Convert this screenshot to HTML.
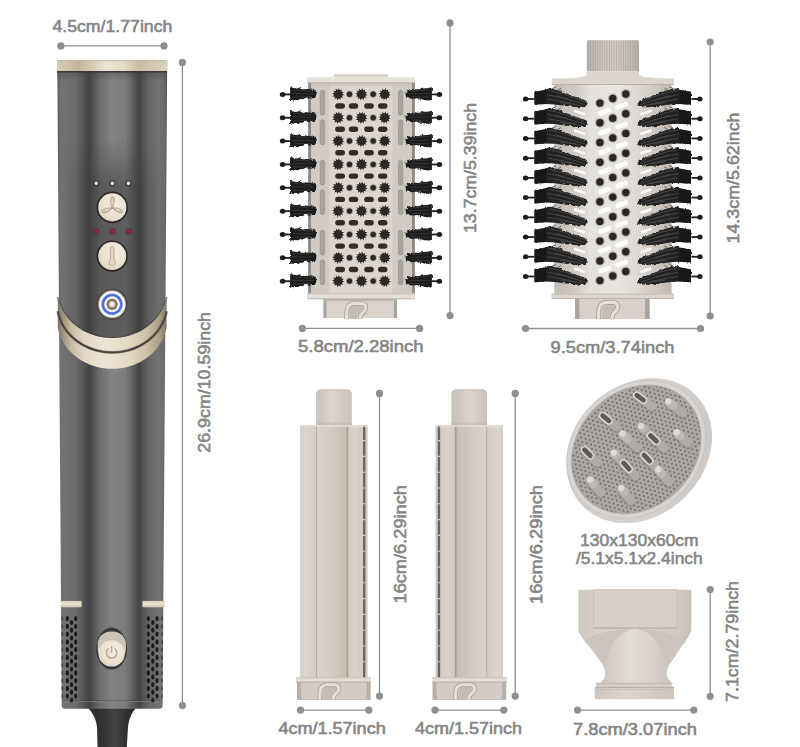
<!DOCTYPE html>
<html><head><meta charset="utf-8"><title>Hair dryer set</title>
<style>
html,body{margin:0;padding:0;background:#fff;width:800px;height:747px;overflow:hidden}
svg{display:block}
text{font-family:"Liberation Sans",sans-serif;fill:#858585;stroke:#858585;stroke-width:0.6px}
</style></head><body>
<svg width="800" height="747" viewBox="0 0 800 747">
<defs>
<linearGradient id="gOvH" x1="0" x2="1"><stop offset="0" stop-color="#3a3a3a" stop-opacity="0"/><stop offset="0.18" stop-color="#3a3a3a" stop-opacity="0.25"/><stop offset="0.5" stop-color="#3a3a3a" stop-opacity="0.55"/><stop offset="0.8" stop-color="#3a3a3a" stop-opacity="0.3"/><stop offset="1" stop-color="#3a3a3a" stop-opacity="0"/></linearGradient>
<linearGradient id="gOvV" x1="0" x2="0" y1="0" y2="1"><stop offset="0" stop-color="#fff" stop-opacity="0"/><stop offset="0.22" stop-color="#fff" stop-opacity="1"/><stop offset="1" stop-color="#fff" stop-opacity="1"/></linearGradient>
<mask id="mOv" maskUnits="userSpaceOnUse" x="60" y="140" width="106" height="205"><rect x="60" y="140" width="106" height="205" fill="url(#gOvV)"/></mask>
<filter id="fFluff" x="-10%" y="-30%" width="120%" height="160%"><feTurbulence type="fractalNoise" baseFrequency="0.35" numOctaves="2" seed="3"/><feDisplacementMap in="SourceGraphic" scale="3.2" xChannelSelector="R" yChannelSelector="G"/></filter>
<linearGradient id="gCap2" x1="0" x2="1"><stop offset="0" stop-color="#b9b3ac"/><stop offset="0.3" stop-color="#cfc9c2"/><stop offset="0.55" stop-color="#d6d0c9"/><stop offset="0.85" stop-color="#c6c0b9"/><stop offset="1" stop-color="#b5afa8"/></linearGradient>

<linearGradient id="gBody" x1="0" x2="1" y1="0" y2="0">
<stop offset="0" stop-color="#5a5a5a"/>
<stop offset="0.03" stop-color="#727272"/>
<stop offset="0.17" stop-color="#6c6c6c"/>
<stop offset="0.29" stop-color="#434343"/>
<stop offset="0.39" stop-color="#6e6e6e"/>
<stop offset="0.5" stop-color="#838383"/>
<stop offset="0.62" stop-color="#7c7c7c"/>
<stop offset="0.745" stop-color="#444444"/>
<stop offset="0.83" stop-color="#666666"/>
<stop offset="0.92" stop-color="#727272"/>
<stop offset="0.98" stop-color="#6a6a6a"/>
<stop offset="1" stop-color="#4a4a4a"/>
</linearGradient>
<linearGradient id="gGold" x1="0" x2="1" y1="0" y2="0">
<stop offset="0" stop-color="#d7ccb6"/><stop offset="0.2" stop-color="#c3b59a"/><stop offset="0.45" stop-color="#ece4d3"/><stop offset="0.6" stop-color="#e6dcc8"/><stop offset="0.75" stop-color="#c9bca2"/><stop offset="1" stop-color="#ddd3c0"/>
</linearGradient>
<linearGradient id="gGold2" x1="0" x2="1" y1="0" y2="0">
<stop offset="0" stop-color="#7f7564"/><stop offset="0.05" stop-color="#a0957f"/><stop offset="0.12" stop-color="#c6baa1"/><stop offset="0.25" stop-color="#e2d8c4"/><stop offset="0.45" stop-color="#ede5d4"/><stop offset="0.65" stop-color="#e3d9c4"/><stop offset="0.82" stop-color="#cdc0a7"/><stop offset="0.93" stop-color="#ab9f87"/><stop offset="1" stop-color="#817765"/>
</linearGradient>
<linearGradient id="gStripe" x1="0" x2="0" y1="0" y2="1">
<stop offset="0" stop-color="#d9cdb6"/><stop offset="0.5" stop-color="#ebe3d2"/><stop offset="1" stop-color="#cfc2a8"/>
</linearGradient>
<linearGradient id="gTopShade" x1="0" x2="0" y1="0" y2="1">
<stop offset="0" stop-color="#3a363c" stop-opacity="0.35"/><stop offset="1" stop-color="#3a363c" stop-opacity="0"/>
</linearGradient>
<radialGradient id="gBtn" cx="0.6" cy="0.35" r="0.75">
<stop offset="0" stop-color="#f3ece0"/><stop offset="0.7" stop-color="#e9dfcd"/><stop offset="1" stop-color="#d8ccb7"/>
</radialGradient>
<linearGradient id="gNeck" x1="0" x2="1" y1="0" y2="0">
<stop offset="0" stop-color="#2a2a2a"/><stop offset="0.35" stop-color="#333"/><stop offset="0.55" stop-color="#454545"/><stop offset="0.75" stop-color="#303030"/><stop offset="1" stop-color="#262626"/>
</linearGradient>
<linearGradient id="gB2" x1="0" x2="1" y1="0" y2="0">
<stop offset="0" stop-color="#c3bdb6"/><stop offset="0.2" stop-color="#d3cdc6"/><stop offset="0.3" stop-color="#e4e0db"/><stop offset="0.55" stop-color="#e8e4df"/><stop offset="0.72" stop-color="#dcd7d1"/><stop offset="0.85" stop-color="#d0cac3"/><stop offset="1" stop-color="#bfb8b1"/>
</linearGradient>
<!--PDEFS-->
<linearGradient id="gCap" x1="0" x2="1"><stop offset="0" stop-color="#cbc2b9"/><stop offset="0.45" stop-color="#dcd5ce"/><stop offset="1" stop-color="#cac1b8"/></linearGradient>
<linearGradient id="gPanL" x1="0" x2="1"><stop offset="0" stop-color="#d2cac2"/><stop offset="0.25" stop-color="#ddd6cf"/><stop offset="1" stop-color="#d3cbc3"/></linearGradient>
<linearGradient id="gPanC" x1="0" x2="1"><stop offset="0" stop-color="#dad3cc"/><stop offset="0.5" stop-color="#d4ccc4"/><stop offset="1" stop-color="#c5bcb3"/></linearGradient>
<linearGradient id="gPanR" x1="0" x2="1"><stop offset="0" stop-color="#d0c8bf"/><stop offset="0.4" stop-color="#dad3cb"/><stop offset="1" stop-color="#d3cbc3"/></linearGradient>
<linearGradient id="gRim" x1="0" x2="1" y1="0" y2="1"><stop offset="0" stop-color="#d3cec9"/><stop offset="0.6" stop-color="#d6d1cc"/><stop offset="1" stop-color="#c9c4bf"/></linearGradient>
<linearGradient id="gNoz" x1="0" x2="1"><stop offset="0" stop-color="#cfc8c0"/><stop offset="0.2" stop-color="#d9d2cb"/><stop offset="0.8" stop-color="#d6cfc8"/><stop offset="1" stop-color="#c9c1b9"/></linearGradient>
<linearGradient id="gCone" x1="0" x2="1"><stop offset="0" stop-color="#cdc5bd"/><stop offset="0.4" stop-color="#e2dcd6"/><stop offset="0.75" stop-color="#d9d2cb"/><stop offset="1" stop-color="#c8c0b8"/></linearGradient>
<linearGradient id="gNozB" x1="0" x2="1"><stop offset="0" stop-color="#cec6be"/><stop offset="0.4" stop-color="#dcd5ce"/><stop offset="1" stop-color="#cdc5bd"/></linearGradient>
<!--/PDEFS-->
</defs>
<rect width="800" height="747" fill="#fff"/>

<!-- ============ DIMENSIONS ============ -->
<g id="dims" stroke="#8f8f8f" stroke-width="1.3" fill="#8f8f8f">
<line x1="60.8" y1="45.9" x2="164" y2="45.9"/><circle cx="60.8" cy="45.9" r="3.6" stroke="none"/><circle cx="164" cy="45.9" r="3.6" stroke="none"/>
<line x1="182.4" y1="62.4" x2="182.4" y2="705.6"/><circle cx="182.4" cy="62.4" r="3.6" stroke="none"/><circle cx="182.4" cy="705.6" r="3.6" stroke="none"/>
<line x1="302.4" y1="328.4" x2="419.6" y2="328.4"/><circle cx="302.4" cy="328.4" r="3.6" stroke="none"/><circle cx="419.6" cy="328.4" r="3.6" stroke="none"/>
<line x1="450" y1="22.9" x2="450" y2="315.6"/><circle cx="450" cy="22.9" r="3.6" stroke="none"/><circle cx="450" cy="315.6" r="3.6" stroke="none"/>
<line x1="525.5" y1="328.5" x2="700.5" y2="328.5"/><circle cx="525.5" cy="328.5" r="3.6" stroke="none"/><circle cx="700.5" cy="328.5" r="3.6" stroke="none"/>
<line x1="710.2" y1="42" x2="710.2" y2="316"/><circle cx="710.2" cy="42" r="3.6" stroke="none"/><circle cx="710.2" cy="316" r="3.6" stroke="none"/>
<line x1="300.5" y1="710.1" x2="368.8" y2="710.1"/><circle cx="300.5" cy="710.1" r="3.6" stroke="none"/><circle cx="368.8" cy="710.1" r="3.6" stroke="none"/>
<line x1="379.5" y1="393.4" x2="379.5" y2="696.1"/><circle cx="379.5" cy="393.4" r="3.6" stroke="none"/><circle cx="379.5" cy="696.1" r="3.6" stroke="none"/>
<line x1="435" y1="710.1" x2="503.8" y2="710.1"/><circle cx="435" cy="710.1" r="3.6" stroke="none"/><circle cx="503.8" cy="710.1" r="3.6" stroke="none"/>
<line x1="515.2" y1="393.4" x2="515.2" y2="696.1"/><circle cx="515.2" cy="393.4" r="3.6" stroke="none"/><circle cx="515.2" cy="696.1" r="3.6" stroke="none"/>
<line x1="577.5" y1="710.1" x2="693.8" y2="710.1"/><circle cx="577.5" cy="710.1" r="3.6" stroke="none"/><circle cx="693.8" cy="710.1" r="3.6" stroke="none"/>
<line x1="710.2" y1="589.5" x2="710.2" y2="696.3"/><circle cx="710.2" cy="589.5" r="3.6" stroke="none"/><circle cx="710.2" cy="696.3" r="3.6" stroke="none"/>
</g>
<g id="labels" font-size="17">
<text x="52.4" y="32.4" textLength="120" lengthAdjust="spacingAndGlyphs">4.5cm/1.77inch</text>
<text x="298" y="352.4" textLength="125.6" lengthAdjust="spacingAndGlyphs">5.8cm/2.28inch</text>
<text x="550.5" y="352.5" textLength="124" lengthAdjust="spacingAndGlyphs">9.5cm/3.74inch</text>
<text x="278.4" y="734.2" textLength="107.3" lengthAdjust="spacingAndGlyphs">4cm/1.57inch</text>
<text x="415" y="734.3" textLength="107" lengthAdjust="spacingAndGlyphs">4cm/1.57inch</text>
<text x="573" y="734.5" textLength="124" lengthAdjust="spacingAndGlyphs">7.8cm/3.07inch</text>
<text x="580" y="546.1" textLength="118.7" lengthAdjust="spacingAndGlyphs">130x130x60cm</text>
<text x="576" y="564.2" textLength="126.7" lengthAdjust="spacingAndGlyphs">/5.1x5.1x2.4inch</text>
<g font-size="17">
<text transform="translate(209.8,452.7) rotate(-90)" textLength="140.7" lengthAdjust="spacingAndGlyphs">26.9cm/10.59inch</text>
<text transform="translate(475.6,233) rotate(-90)" textLength="130" lengthAdjust="spacingAndGlyphs">13.7cm/5.39inch</text>
<text transform="translate(739,243.5) rotate(-90)" textLength="131" lengthAdjust="spacingAndGlyphs">14.3cm/5.62inch</text>
<text transform="translate(406.2,603.5) rotate(-90)" textLength="118.5" lengthAdjust="spacingAndGlyphs">16cm/6.29inch</text>
<text transform="translate(542.2,604) rotate(-90)" textLength="119" lengthAdjust="spacingAndGlyphs">16cm/6.29inch</text>
<text transform="translate(738,702) rotate(-90)" textLength="121" lengthAdjust="spacingAndGlyphs">7.1cm/2.79inch</text>
</g>
</g>

<!-- ============ DRYER ============ -->
<g id="dryer">
<!-- neck -->
<path d="M84,704 C91,710 96,717 97,727 L97.5,747 L126.8,747 L128,727 C129,717 133,710 140,704 Z" fill="url(#gNeck)"/>
<!-- body -->
<path d="M57.3,61 L167.2,61 L162.6,705.5 Q162.5,708.7 159.5,708.7 L64.8,708.7 Q61.8,708.7 61.7,705.5 Z" fill="url(#gBody)"/>
<rect x="62" y="140" width="102" height="205" fill="url(#gOvH)" mask="url(#mOv)"/>
<path d="M62,701.6 L162.3,701.6" stroke="#858585" stroke-width="0.9" opacity="0.7"/><path d="M62,700.6 L162.3,700.6" stroke="#3e3e3e" stroke-width="0.8" opacity="0.5"/>
<!-- top band -->
<rect x="57" y="60.2" width="110" height="11" fill="url(#gGold)"/>
<rect x="57" y="60.2" width="110" height="1" fill="#b9ac93" opacity="0.7"/>
<rect x="57" y="71" width="110" height="1.6" fill="#3a383a"/>
<rect x="57" y="72.6" width="110" height="8" fill="url(#gTopShade)"/>
<!-- LEDs -->
<g fill="#2e2e2e" opacity="0.6"><circle cx="96.2" cy="183.3" r="3.2"/><circle cx="112.3" cy="183.3" r="3.2"/><circle cx="128.4" cy="183.3" r="3.2"/></g>
<g fill="#f4f4f4"><circle cx="96.2" cy="183.3" r="1.7"/><circle cx="112.3" cy="183.3" r="1.7"/><circle cx="128.4" cy="183.3" r="1.7"/></g>
<g fill="#2e2e2e" opacity="0.5"><circle cx="96.2" cy="231.6" r="3.4"/><circle cx="112.3" cy="231.6" r="3.4"/><circle cx="128.4" cy="231.6" r="3.4"/></g>
<g fill="#a8233a"><circle cx="96.2" cy="231.6" r="2.1"/><circle cx="112.3" cy="231.6" r="2.1"/><circle cx="128.4" cy="231.6" r="2.1"/></g>
<!-- fan button -->
<circle cx="112.3" cy="207.4" r="15.8" fill="#2b2a2a"/>
<circle cx="112.3" cy="207.4" r="14.1" fill="url(#gBtn)"/>
<g fill="#e2d8c5" stroke="#b0a48e" stroke-width="1.1" stroke-linejoin="round">
<path d="M112.3,207.8 C110.6,204 110.3,200.5 111.2,198 C112,196.6 113.6,196.8 114,198.6 C114.5,201.5 113.6,205 112.3,207.8 Z"/>
<path d="M112.3,207.8 C109.8,210.2 106.5,212.2 103.8,212.6 C102.2,212.7 101.6,211.3 102.8,210.3 C105,208.6 108.6,207.6 112.3,207.8 Z"/>
<path d="M112.3,207.8 C114.8,210.2 118.1,212.2 120.8,212.6 C122.4,212.7 123,211.3 121.8,210.3 C119.6,208.6 116,207.6 112.3,207.8 Z"/>
</g>
<!-- thermo button -->
<circle cx="112.2" cy="256.1" r="15.7" fill="#2b2a2a"/>
<circle cx="112.2" cy="256.1" r="14" fill="url(#gBtn)"/>
<path d="M110.4,248.4 Q110.4,246.4 112.2,246.4 Q114,246.4 114,248.4 L114,260.2 A3.2,3.2 0 1 1 110.4,260.2 Z" fill="#e2d8c6" stroke="#b9ab94" stroke-width="1"/>
<!-- blue ring button -->
<circle cx="112.1" cy="304.3" r="15.6" fill="#4d4244"/>
<circle cx="112.1" cy="304.3" r="14" fill="#a39a94"/>
<circle cx="112.1" cy="304.3" r="13.2" fill="#f3f3ee"/>
<circle cx="112.1" cy="304.3" r="9.3" fill="none" stroke="#4a70e2" stroke-width="2.6"/>
<circle cx="112.1" cy="304.3" r="5.6" fill="#84705f"/>
<circle cx="112.1" cy="304.3" r="3.3" fill="#cfc7bc"/>
<circle cx="112.1" cy="304.3" r="2.1" fill="#f5f5ec"/>
<!-- gold arcs -->
<path id="arcShadow" d="M57.80,296.90 57.84,297.11 57.97,297.73 58.18,298.67 58.47,299.85 58.85,301.19 59.30,302.65 59.84,304.18 60.46,305.76 61.16,307.36 61.94,308.97 62.80,310.58 63.73,312.19 64.74,313.77 65.82,315.34 66.97,316.87 68.19,318.38 69.48,319.85 70.83,321.28 72.25,322.66 73.73,324.00 75.27,325.29 76.87,326.53 78.52,327.72 80.22,328.85 81.98,329.92 83.78,330.93 85.62,331.88 87.50,332.77 89.42,333.59 91.38,334.34 93.37,335.03 95.39,335.65 97.43,336.20 99.50,336.67 101.59,337.08 103.69,337.41 105.81,337.67 107.93,337.85 110.06,337.96 112.20,338.00 114.34,337.96 116.47,337.85 118.59,337.67 120.71,337.41 122.81,337.08 124.90,336.67 126.97,336.20 129.01,335.65 131.03,335.03 133.02,334.34 134.98,333.59 136.90,332.77 138.78,331.88 140.62,330.93 142.42,329.92 144.18,328.85 145.88,327.72 147.53,326.53 149.13,325.29 150.67,324.00 152.15,322.66 153.57,321.28 154.92,319.85 156.21,318.38 157.43,316.87 158.58,315.34 159.66,313.77 160.67,312.19 161.60,310.58 162.46,308.97 163.24,307.36 163.94,305.76 164.56,304.18 165.10,302.65 165.55,301.19 165.93,299.85 166.22,298.67 166.43,297.73 166.56,297.11 166.60,296.90" fill="none" stroke="#2c2a2a" stroke-width="2.2" opacity="0.45"/>
<path d="M57.80,296.90 57.84,297.11 57.97,297.73 58.18,298.67 58.47,299.85 58.85,301.19 59.30,302.65 59.84,304.18 60.46,305.76 61.16,307.36 61.94,308.97 62.80,310.58 63.73,312.19 64.74,313.77 65.82,315.34 66.97,316.87 68.19,318.38 69.48,319.85 70.83,321.28 72.25,322.66 73.73,324.00 75.27,325.29 76.87,326.53 78.52,327.72 80.22,328.85 81.98,329.92 83.78,330.93 85.62,331.88 87.50,332.77 89.42,333.59 91.38,334.34 93.37,335.03 95.39,335.65 97.43,336.20 99.50,336.67 101.59,337.08 103.69,337.41 105.81,337.67 107.93,337.85 110.06,337.96 112.20,338.00 114.34,337.96 116.47,337.85 118.59,337.67 120.71,337.41 122.81,337.08 124.90,336.67 126.97,336.20 129.01,335.65 131.03,335.03 133.02,334.34 134.98,333.59 136.90,332.77 138.78,331.88 140.62,330.93 142.42,329.92 144.18,328.85 145.88,327.72 147.53,326.53 149.13,325.29 150.67,324.00 152.15,322.66 153.57,321.28 154.92,319.85 156.21,318.38 157.43,316.87 158.58,315.34 159.66,313.77 160.67,312.19 161.60,310.58 162.46,308.97 163.24,307.36 163.94,305.76 164.56,304.18 165.10,302.65 165.55,301.19 165.93,299.85 166.22,298.67 166.43,297.73 166.56,297.11 166.60,296.90 L166.60,310.40 166.56,310.61 166.43,311.23 166.22,312.17 165.93,313.35 165.55,314.69 165.10,316.15 164.56,317.68 163.94,319.26 163.24,320.86 162.46,322.47 161.60,324.08 160.67,325.69 159.66,327.27 158.58,328.84 157.43,330.37 156.21,331.88 154.92,333.35 153.57,334.78 152.15,336.16 150.67,337.50 149.13,338.79 147.53,340.03 145.88,341.22 144.18,342.35 142.42,343.42 140.62,344.43 138.78,345.38 136.90,346.27 134.98,347.09 133.02,347.84 131.03,348.53 129.01,349.15 126.97,349.70 124.90,350.17 122.81,350.58 120.71,350.91 118.59,351.17 116.47,351.35 114.34,351.46 112.20,351.50 110.06,351.46 107.93,351.35 105.81,351.17 103.69,350.91 101.59,350.58 99.50,350.17 97.43,349.70 95.39,349.15 93.37,348.53 91.38,347.84 89.42,347.09 87.50,346.27 85.62,345.38 83.78,344.43 81.98,343.42 80.22,342.35 78.52,341.22 76.87,340.03 75.27,338.79 73.73,337.50 72.25,336.16 70.83,334.78 69.48,333.35 68.19,331.88 66.97,330.37 65.82,328.84 64.74,327.27 63.73,325.69 62.80,324.08 61.94,322.47 61.16,320.86 60.46,319.26 59.84,317.68 59.30,316.15 58.85,314.69 58.47,313.35 58.18,312.17 57.97,311.23 57.84,310.61 57.80,310.40 Z" fill="url(#gGold2)"/>
<path d="M57.80,312.30 57.84,312.51 57.97,313.13 58.18,314.07 58.47,315.25 58.85,316.59 59.30,318.05 59.84,319.58 60.46,321.16 61.16,322.76 61.94,324.37 62.80,325.98 63.73,327.59 64.74,329.17 65.82,330.74 66.97,332.27 68.19,333.78 69.48,335.25 70.83,336.68 72.25,338.06 73.73,339.40 75.27,340.69 76.87,341.93 78.52,343.12 80.22,344.25 81.98,345.32 83.78,346.33 85.62,347.28 87.50,348.17 89.42,348.99 91.38,349.74 93.37,350.43 95.39,351.05 97.43,351.60 99.50,352.07 101.59,352.48 103.69,352.81 105.81,353.07 107.93,353.25 110.06,353.36 112.20,353.40 114.34,353.36 116.47,353.25 118.59,353.07 120.71,352.81 122.81,352.48 124.90,352.07 126.97,351.60 129.01,351.05 131.03,350.43 133.02,349.74 134.98,348.99 136.90,348.17 138.78,347.28 140.62,346.33 142.42,345.32 144.18,344.25 145.88,343.12 147.53,341.93 149.13,340.69 150.67,339.40 152.15,338.06 153.57,336.68 154.92,335.25 156.21,333.78 157.43,332.27 158.58,330.74 159.66,329.17 160.67,327.59 161.60,325.98 162.46,324.37 163.24,322.76 163.94,321.16 164.56,319.58 165.10,318.05 165.55,316.59 165.93,315.25 166.22,314.07 166.43,313.13 166.56,312.51 166.60,312.30 L166.60,327.70 166.56,327.91 166.43,328.53 166.22,329.47 165.93,330.65 165.55,331.99 165.10,333.45 164.56,334.98 163.94,336.56 163.24,338.16 162.46,339.77 161.60,341.38 160.67,342.99 159.66,344.57 158.58,346.14 157.43,347.67 156.21,349.18 154.92,350.65 153.57,352.08 152.15,353.46 150.67,354.80 149.13,356.09 147.53,357.33 145.88,358.52 144.18,359.65 142.42,360.72 140.62,361.73 138.78,362.68 136.90,363.57 134.98,364.39 133.02,365.14 131.03,365.83 129.01,366.45 126.97,367.00 124.90,367.47 122.81,367.88 120.71,368.21 118.59,368.47 116.47,368.65 114.34,368.76 112.20,368.80 110.06,368.76 107.93,368.65 105.81,368.47 103.69,368.21 101.59,367.88 99.50,367.47 97.43,367.00 95.39,366.45 93.37,365.83 91.38,365.14 89.42,364.39 87.50,363.57 85.62,362.68 83.78,361.73 81.98,360.72 80.22,359.65 78.52,358.52 76.87,357.33 75.27,356.09 73.73,354.80 72.25,353.46 70.83,352.08 69.48,350.65 68.19,349.18 66.97,347.67 65.82,346.14 64.74,344.57 63.73,342.99 62.80,341.38 61.94,339.77 61.16,338.16 60.46,336.56 59.84,334.98 59.30,333.45 58.85,331.99 58.47,330.65 58.18,329.47 57.97,328.53 57.84,327.91 57.80,327.70 Z" fill="url(#gGold2)"/>
<path d="M57.80,311.30 57.84,311.51 57.97,312.13 58.18,313.07 58.47,314.25 58.85,315.59 59.30,317.05 59.84,318.58 60.46,320.16 61.16,321.76 61.94,323.37 62.80,324.98 63.73,326.59 64.74,328.17 65.82,329.74 66.97,331.27 68.19,332.78 69.48,334.25 70.83,335.68 72.25,337.06 73.73,338.40 75.27,339.69 76.87,340.93 78.52,342.12 80.22,343.25 81.98,344.32 83.78,345.33 85.62,346.28 87.50,347.17 89.42,347.99 91.38,348.74 93.37,349.43 95.39,350.05 97.43,350.60 99.50,351.07 101.59,351.48 103.69,351.81 105.81,352.07 107.93,352.25 110.06,352.36 112.20,352.40 114.34,352.36 116.47,352.25 118.59,352.07 120.71,351.81 122.81,351.48 124.90,351.07 126.97,350.60 129.01,350.05 131.03,349.43 133.02,348.74 134.98,347.99 136.90,347.17 138.78,346.28 140.62,345.33 142.42,344.32 144.18,343.25 145.88,342.12 147.53,340.93 149.13,339.69 150.67,338.40 152.15,337.06 153.57,335.68 154.92,334.25 156.21,332.78 157.43,331.27 158.58,329.74 159.66,328.17 160.67,326.59 161.60,324.98 162.46,323.37 163.24,321.76 163.94,320.16 164.56,318.58 165.10,317.05 165.55,315.59 165.93,314.25 166.22,313.07 166.43,312.13 166.56,311.51 166.60,311.30" fill="none" stroke="#5a5248" stroke-width="3" opacity="0.55"/>
<path d="M57.80,311.30 57.84,311.51 57.97,312.13 58.18,313.07 58.47,314.25 58.85,315.59 59.30,317.05 59.84,318.58 60.46,320.16 61.16,321.76 61.94,323.37 62.80,324.98 63.73,326.59 64.74,328.17 65.82,329.74 66.97,331.27 68.19,332.78 69.48,334.25 70.83,335.68 72.25,337.06 73.73,338.40 75.27,339.69 76.87,340.93 78.52,342.12 80.22,343.25 81.98,344.32 83.78,345.33 85.62,346.28 87.50,347.17 89.42,347.99 91.38,348.74 93.37,349.43 95.39,350.05 97.43,350.60 99.50,351.07 101.59,351.48 103.69,351.81 105.81,352.07 107.93,352.25 110.06,352.36 112.20,352.40 114.34,352.36 116.47,352.25 118.59,352.07 120.71,351.81 122.81,351.48 124.90,351.07 126.97,350.60 129.01,350.05 131.03,349.43 133.02,348.74 134.98,347.99 136.90,347.17 138.78,346.28 140.62,345.33 142.42,344.32 144.18,343.25 145.88,342.12 147.53,340.93 149.13,339.69 150.67,338.40 152.15,337.06 153.57,335.68 154.92,334.25 156.21,332.78 157.43,331.27 158.58,329.74 159.66,328.17 160.67,326.59 161.60,324.98 162.46,323.37 163.24,321.76 163.94,320.16 164.56,318.58 165.10,317.05 165.55,315.59 165.93,314.25 166.22,313.07 166.43,312.13 166.56,311.51 166.60,311.30" fill="none" stroke="#3a3430" stroke-width="1.2" opacity="0.85"/>
<!-- lower stripes -->
<rect x="60.6" y="600.9" width="21" height="6.4" fill="url(#gStripe)"/>
<rect x="142.5" y="600.9" width="22.3" height="6.4" fill="url(#gStripe)"/>
<!-- vents -->
<g fill="#1b1b1b">
<ellipse cx="62.3" cy="618.6" rx="1.0" ry="2.5" opacity="0.45"/>
<ellipse cx="67.3" cy="618.6" rx="1.6" ry="2.6" opacity="1"/>
<ellipse cx="75.7" cy="618.6" rx="1.6" ry="2.6" opacity="1"/>
<ellipse cx="71.5" cy="622.5" rx="1.6" ry="2.6"/>
<ellipse cx="62.3" cy="626.4" rx="1.0" ry="2.5" opacity="0.45"/>
<ellipse cx="67.3" cy="626.4" rx="1.6" ry="2.6" opacity="1"/>
<ellipse cx="75.7" cy="626.4" rx="1.6" ry="2.6" opacity="1"/>
<ellipse cx="71.5" cy="630.2" rx="1.6" ry="2.6"/>
<ellipse cx="62.3" cy="634.1" rx="1.0" ry="2.5" opacity="0.45"/>
<ellipse cx="67.3" cy="634.1" rx="1.6" ry="2.6" opacity="1"/>
<ellipse cx="75.7" cy="634.1" rx="1.6" ry="2.6" opacity="1"/>
<ellipse cx="71.5" cy="638.0" rx="1.6" ry="2.6"/>
<ellipse cx="62.3" cy="641.9" rx="1.0" ry="2.5" opacity="0.45"/>
<ellipse cx="67.3" cy="641.9" rx="1.6" ry="2.6" opacity="1"/>
<ellipse cx="75.7" cy="641.9" rx="1.6" ry="2.6" opacity="1"/>
<ellipse cx="71.5" cy="645.8" rx="1.6" ry="2.6"/>
<ellipse cx="62.3" cy="649.6" rx="1.0" ry="2.5" opacity="0.45"/>
<ellipse cx="67.3" cy="649.6" rx="1.6" ry="2.6" opacity="1"/>
<ellipse cx="75.7" cy="649.6" rx="1.6" ry="2.6" opacity="1"/>
<ellipse cx="71.5" cy="653.5" rx="1.6" ry="2.6"/>
<ellipse cx="62.3" cy="657.4" rx="1.0" ry="2.5" opacity="0.45"/>
<ellipse cx="67.3" cy="657.4" rx="1.6" ry="2.6" opacity="1"/>
<ellipse cx="75.7" cy="657.4" rx="1.6" ry="2.6" opacity="1"/>
<ellipse cx="71.5" cy="661.2" rx="1.6" ry="2.6"/>
<ellipse cx="62.3" cy="665.1" rx="1.0" ry="2.5" opacity="0.45"/>
<ellipse cx="67.3" cy="665.1" rx="1.6" ry="2.6" opacity="1"/>
<ellipse cx="75.7" cy="665.1" rx="1.6" ry="2.6" opacity="1"/>
<ellipse cx="71.5" cy="669.0" rx="1.6" ry="2.6"/>
<ellipse cx="62.3" cy="672.9" rx="1.0" ry="2.5" opacity="0.45"/>
<ellipse cx="67.3" cy="672.9" rx="1.6" ry="2.6" opacity="1"/>
<ellipse cx="75.7" cy="672.9" rx="1.6" ry="2.6" opacity="1"/>
<ellipse cx="71.5" cy="676.8" rx="1.6" ry="2.6"/>
<ellipse cx="62.3" cy="680.6" rx="1.0" ry="2.5" opacity="0.45"/>
<ellipse cx="67.3" cy="680.6" rx="1.6" ry="2.6" opacity="1"/>
<ellipse cx="75.7" cy="680.6" rx="1.6" ry="2.6" opacity="1"/>
<ellipse cx="71.5" cy="684.5" rx="1.6" ry="2.6"/>
<ellipse cx="62.3" cy="688.4" rx="1.0" ry="2.5" opacity="0.45"/>
<ellipse cx="67.3" cy="688.4" rx="1.6" ry="2.6" opacity="1"/>
<ellipse cx="75.7" cy="688.4" rx="1.6" ry="2.6" opacity="1"/>
<ellipse cx="71.5" cy="692.2" rx="1.6" ry="2.6"/>
<ellipse cx="62.3" cy="696.1" rx="1.0" ry="2.5" opacity="0.45"/>
<ellipse cx="67.3" cy="696.1" rx="1.6" ry="2.6" opacity="1"/>
<ellipse cx="75.7" cy="696.1" rx="1.6" ry="2.6" opacity="1"/>
<ellipse cx="71.5" cy="700.0" rx="1.6" ry="2.6"/>
<ellipse cx="148.3" cy="618.6" rx="1.6" ry="2.6" opacity="1"/>
<ellipse cx="157" cy="618.6" rx="1.6" ry="2.6" opacity="1"/>
<ellipse cx="162.1" cy="618.6" rx="1.0" ry="2.5" opacity="0.45"/>
<ellipse cx="152.8" cy="622.5" rx="1.6" ry="2.6"/>
<ellipse cx="148.3" cy="626.4" rx="1.6" ry="2.6" opacity="1"/>
<ellipse cx="157" cy="626.4" rx="1.6" ry="2.6" opacity="1"/>
<ellipse cx="162.1" cy="626.4" rx="1.0" ry="2.5" opacity="0.45"/>
<ellipse cx="152.8" cy="630.2" rx="1.6" ry="2.6"/>
<ellipse cx="148.3" cy="634.1" rx="1.6" ry="2.6" opacity="1"/>
<ellipse cx="157" cy="634.1" rx="1.6" ry="2.6" opacity="1"/>
<ellipse cx="162.1" cy="634.1" rx="1.0" ry="2.5" opacity="0.45"/>
<ellipse cx="152.8" cy="638.0" rx="1.6" ry="2.6"/>
<ellipse cx="148.3" cy="641.9" rx="1.6" ry="2.6" opacity="1"/>
<ellipse cx="157" cy="641.9" rx="1.6" ry="2.6" opacity="1"/>
<ellipse cx="162.1" cy="641.9" rx="1.0" ry="2.5" opacity="0.45"/>
<ellipse cx="152.8" cy="645.8" rx="1.6" ry="2.6"/>
<ellipse cx="148.3" cy="649.6" rx="1.6" ry="2.6" opacity="1"/>
<ellipse cx="157" cy="649.6" rx="1.6" ry="2.6" opacity="1"/>
<ellipse cx="162.1" cy="649.6" rx="1.0" ry="2.5" opacity="0.45"/>
<ellipse cx="152.8" cy="653.5" rx="1.6" ry="2.6"/>
<ellipse cx="148.3" cy="657.4" rx="1.6" ry="2.6" opacity="1"/>
<ellipse cx="157" cy="657.4" rx="1.6" ry="2.6" opacity="1"/>
<ellipse cx="162.1" cy="657.4" rx="1.0" ry="2.5" opacity="0.45"/>
<ellipse cx="152.8" cy="661.2" rx="1.6" ry="2.6"/>
<ellipse cx="148.3" cy="665.1" rx="1.6" ry="2.6" opacity="1"/>
<ellipse cx="157" cy="665.1" rx="1.6" ry="2.6" opacity="1"/>
<ellipse cx="162.1" cy="665.1" rx="1.0" ry="2.5" opacity="0.45"/>
<ellipse cx="152.8" cy="669.0" rx="1.6" ry="2.6"/>
<ellipse cx="148.3" cy="672.9" rx="1.6" ry="2.6" opacity="1"/>
<ellipse cx="157" cy="672.9" rx="1.6" ry="2.6" opacity="1"/>
<ellipse cx="162.1" cy="672.9" rx="1.0" ry="2.5" opacity="0.45"/>
<ellipse cx="152.8" cy="676.8" rx="1.6" ry="2.6"/>
<ellipse cx="148.3" cy="680.6" rx="1.6" ry="2.6" opacity="1"/>
<ellipse cx="157" cy="680.6" rx="1.6" ry="2.6" opacity="1"/>
<ellipse cx="162.1" cy="680.6" rx="1.0" ry="2.5" opacity="0.45"/>
<ellipse cx="152.8" cy="684.5" rx="1.6" ry="2.6"/>
<ellipse cx="148.3" cy="688.4" rx="1.6" ry="2.6" opacity="1"/>
<ellipse cx="157" cy="688.4" rx="1.6" ry="2.6" opacity="1"/>
<ellipse cx="162.1" cy="688.4" rx="1.0" ry="2.5" opacity="0.45"/>
<ellipse cx="152.8" cy="692.2" rx="1.6" ry="2.6"/>
<ellipse cx="148.3" cy="696.1" rx="1.6" ry="2.6" opacity="1"/>
<ellipse cx="157" cy="696.1" rx="1.6" ry="2.6" opacity="1"/>
<ellipse cx="162.1" cy="696.1" rx="1.0" ry="2.5" opacity="0.45"/>
<ellipse cx="152.8" cy="700.0" rx="1.6" ry="2.6"/>
</g>
<!-- power button -->
<ellipse cx="111.7" cy="648.6" rx="15.4" ry="21" fill="#2d2b2b" opacity="0.85"/>
<rect x="97.6" y="631.5" width="28.4" height="30" rx="13" fill="#cbc3b5"/>
<circle cx="111.6" cy="653.4" r="13.2" fill="url(#gBtn)"/>
<g fill="none" stroke="#b3a894" stroke-width="1.5" stroke-linecap="round">
<path d="M108.2,648.9 A5.2,5.2 0 1 0 115,648.9"/>
<path d="M111.6,646.6 L111.6,652.2"/>
</g>
</g>

<!--BRUSHES-->
<g id="brush1">
<path d="M333,77.5 L334.5,74 L387.5,74 L389,77.5 Z" fill="#d9d3cc"/>
<rect x="308.2" y="82" width="106.6" height="212" fill="#d2cbc4"/>
<rect x="308.2" y="82" width="2.8" height="212" fill="#8f8983"/>
<rect x="412" y="82" width="2.8" height="212" fill="#8f8983"/>
<rect x="329.3" y="82" width="63" height="212" fill="#dcd6cf"/>
<rect x="311" y="82" width="101" height="4" fill="#c4bdb6" opacity="0.6"/>
<path d="M307,77.3 L415,77.3 L415,82.8 L307,82.8 Z" fill="#e5e0da"/>
<rect x="307" y="82.3" width="108" height="0.9" fill="#b8b1a9"/>
<rect x="323.5" y="299" width="73.5" height="19" fill="#d9d3cc"/>
<rect x="323.5" y="299" width="3" height="19" fill="#a9a29b"/>
<rect x="394" y="299" width="3" height="19" fill="#a9a29b"/>
<rect x="323.5" y="299" width="73.5" height="2" fill="#bdb6ae"/>
<g transform="translate(346.5,318.6) scale(1.0,1.04)"><path d="M3.2,0.5 L3.4,-7.5 Q4,-11.8 8,-12 L13.3,-12.2 Q16.6,-12 16.3,-10 Q16,-8.3 13.5,-6.5 Q10.6,-4.6 10.5,0.5 Z" fill="#c4bcb4"/><path d="M0,0.5 L0.4,-8 Q1.2,-14 7,-14.6 L13.5,-14.9 Q19.5,-14.5 19.3,-10.5 Q19,-7.5 15.5,-5 Q13.6,-3.5 13.6,0.5" fill="none" stroke="#a79f97" stroke-width="4.6"/><path d="M0,0.5 L0.4,-8 Q1.2,-14 7,-14.6 L13.5,-14.9 Q19.5,-14.5 19.3,-10.5 Q19,-7.5 15.5,-5 Q13.6,-3.5 13.6,0.5" fill="none" stroke="#e4dfd9" stroke-width="3"/></g>
<rect x="307" y="293.4" width="108" height="5.6" fill="#e3ded8"/>
<rect x="307" y="293.4" width="108" height="0.9" fill="#c3bcb4"/>
<rect x="307" y="298.4" width="108" height="0.8" fill="#b5aea6"/>
<rect x="320.2" y="90.2" width="4.5" height="25" rx="2.2" fill="#a8a29c" stroke="#948e88" stroke-width="0.6"/>
<rect x="398.3" y="90.2" width="4.5" height="25" rx="2.2" fill="#a8a29c" stroke="#948e88" stroke-width="0.6"/>
<rect x="320.2" y="119.8" width="4.5" height="25" rx="2.2" fill="#a8a29c" stroke="#948e88" stroke-width="0.6"/>
<rect x="398.3" y="119.8" width="4.5" height="25" rx="2.2" fill="#a8a29c" stroke="#948e88" stroke-width="0.6"/>
<rect x="320.2" y="160.2" width="4.5" height="25" rx="2.2" fill="#a8a29c" stroke="#948e88" stroke-width="0.6"/>
<rect x="398.3" y="160.2" width="4.5" height="25" rx="2.2" fill="#a8a29c" stroke="#948e88" stroke-width="0.6"/>
<rect x="320.2" y="189.8" width="4.5" height="25" rx="2.2" fill="#a8a29c" stroke="#948e88" stroke-width="0.6"/>
<rect x="398.3" y="189.8" width="4.5" height="25" rx="2.2" fill="#a8a29c" stroke="#948e88" stroke-width="0.6"/>
<rect x="320.2" y="230.2" width="4.5" height="25" rx="2.2" fill="#a8a29c" stroke="#948e88" stroke-width="0.6"/>
<rect x="398.3" y="230.2" width="4.5" height="25" rx="2.2" fill="#a8a29c" stroke="#948e88" stroke-width="0.6"/>
<rect x="320.2" y="259.8" width="4.5" height="25" rx="2.2" fill="#a8a29c" stroke="#948e88" stroke-width="0.6"/>
<rect x="398.3" y="259.8" width="4.5" height="25" rx="2.2" fill="#a8a29c" stroke="#948e88" stroke-width="0.6"/>
<rect x="335.2" y="103.3" width="9.8" height="5.4" rx="2.7" fill="#342b27"/>
<rect x="348.8" y="103.3" width="9.4" height="5.4" rx="2.7" fill="#342b27"/>
<rect x="364.2" y="103.3" width="9.6" height="5.4" rx="2.7" fill="#342b27"/>
<rect x="378" y="103.3" width="9.4" height="5.4" rx="2.7" fill="#342b27"/>
<rect x="335.2" y="126.6" width="9.8" height="5.4" rx="2.7" fill="#342b27"/>
<rect x="348.8" y="126.6" width="9.4" height="5.4" rx="2.7" fill="#342b27"/>
<rect x="364.2" y="126.6" width="9.6" height="5.4" rx="2.7" fill="#342b27"/>
<rect x="378" y="126.6" width="9.4" height="5.4" rx="2.7" fill="#342b27"/>
<rect x="335.2" y="150.0" width="9.8" height="5.4" rx="2.7" fill="#342b27"/>
<rect x="348.8" y="150.0" width="9.4" height="5.4" rx="2.7" fill="#342b27"/>
<rect x="364.2" y="150.0" width="9.6" height="5.4" rx="2.7" fill="#342b27"/>
<rect x="378" y="150.0" width="9.4" height="5.4" rx="2.7" fill="#342b27"/>
<rect x="335.2" y="173.4" width="9.8" height="5.4" rx="2.7" fill="#342b27"/>
<rect x="348.8" y="173.4" width="9.4" height="5.4" rx="2.7" fill="#342b27"/>
<rect x="364.2" y="173.4" width="9.6" height="5.4" rx="2.7" fill="#342b27"/>
<rect x="378" y="173.4" width="9.4" height="5.4" rx="2.7" fill="#342b27"/>
<rect x="335.2" y="196.7" width="9.8" height="5.4" rx="2.7" fill="#342b27"/>
<rect x="348.8" y="196.7" width="9.4" height="5.4" rx="2.7" fill="#342b27"/>
<rect x="364.2" y="196.7" width="9.6" height="5.4" rx="2.7" fill="#342b27"/>
<rect x="378" y="196.7" width="9.4" height="5.4" rx="2.7" fill="#342b27"/>
<rect x="335.2" y="220.1" width="9.8" height="5.4" rx="2.7" fill="#342b27"/>
<rect x="348.8" y="220.1" width="9.4" height="5.4" rx="2.7" fill="#342b27"/>
<rect x="364.2" y="220.1" width="9.6" height="5.4" rx="2.7" fill="#342b27"/>
<rect x="378" y="220.1" width="9.4" height="5.4" rx="2.7" fill="#342b27"/>
<rect x="335.2" y="243.4" width="9.8" height="5.4" rx="2.7" fill="#342b27"/>
<rect x="348.8" y="243.4" width="9.4" height="5.4" rx="2.7" fill="#342b27"/>
<rect x="364.2" y="243.4" width="9.6" height="5.4" rx="2.7" fill="#342b27"/>
<rect x="378" y="243.4" width="9.4" height="5.4" rx="2.7" fill="#342b27"/>
<rect x="335.2" y="266.8" width="9.8" height="5.4" rx="2.7" fill="#342b27"/>
<rect x="348.8" y="266.8" width="9.4" height="5.4" rx="2.7" fill="#342b27"/>
<rect x="364.2" y="266.8" width="9.6" height="5.4" rx="2.7" fill="#342b27"/>
<rect x="378" y="266.8" width="9.4" height="5.4" rx="2.7" fill="#342b27"/>
<polygon points="344.4,95.1 341.7,95.8 343.2,98.1 340.5,97.3 340.6,100.1 338.7,98.1 337.4,100.5 336.7,97.8 334.4,99.3 335.2,96.6 332.4,96.7 334.4,94.8 332.0,93.5 334.7,92.8 333.2,90.5 335.9,91.3 335.8,88.5 337.7,90.5 339.0,88.1 339.7,90.8 342.0,89.3 341.2,92.0 344.0,91.9 342.0,93.8" fill="#262220"/>
<circle cx="338.2" cy="94.3" r="4.2" fill="#2b2725"/>
<polygon points="367.7,95.1 365.0,95.8 366.5,98.1 363.8,97.3 363.9,100.1 362.0,98.1 360.7,100.5 360.0,97.8 357.7,99.3 358.5,96.6 355.7,96.7 357.7,94.8 355.3,93.5 358.0,92.8 356.5,90.5 359.2,91.3 359.1,88.5 361.0,90.5 362.3,88.1 363.0,90.8 365.3,89.3 364.5,92.0 367.3,91.9 365.3,93.8" fill="#262220"/>
<circle cx="361.5" cy="94.3" r="4.2" fill="#2b2725"/>
<polygon points="390.9,95.1 388.2,95.8 389.7,98.1 387.0,97.3 387.1,100.1 385.2,98.1 383.9,100.5 383.2,97.8 380.9,99.3 381.7,96.6 378.9,96.7 380.9,94.8 378.5,93.5 381.2,92.8 379.7,90.5 382.4,91.3 382.3,88.5 384.2,90.5 385.5,88.1 386.2,90.8 388.5,89.3 387.7,92.0 390.5,91.9 388.5,93.8" fill="#262220"/>
<circle cx="384.7" cy="94.3" r="4.2" fill="#2b2725"/>
<circle cx="349.5" cy="94.3" r="3.5" fill="#6d6661" opacity="0.5"/>
<circle cx="349.5" cy="94.3" r="2.7" fill="#2c2826"/>
<circle cx="373.2" cy="94.3" r="3.5" fill="#6d6661" opacity="0.5"/>
<circle cx="373.2" cy="94.3" r="2.7" fill="#2c2826"/>
<polygon points="344.4,118.5 341.7,119.1 343.2,121.5 340.5,120.7 340.6,123.5 338.7,121.4 337.4,123.9 336.7,121.2 334.4,122.7 335.2,120.0 332.4,120.1 334.4,118.1 332.0,116.8 334.7,116.2 333.2,113.8 335.9,114.6 335.8,111.8 337.7,113.9 339.0,111.4 339.7,114.1 342.0,112.6 341.2,115.3 344.0,115.2 342.0,117.2" fill="#262220"/>
<circle cx="338.2" cy="117.7" r="4.2" fill="#2b2725"/>
<polygon points="367.7,118.5 365.0,119.1 366.5,121.5 363.8,120.7 363.9,123.5 362.0,121.4 360.7,123.9 360.0,121.2 357.7,122.7 358.5,120.0 355.7,120.1 357.7,118.1 355.3,116.8 358.0,116.2 356.5,113.8 359.2,114.6 359.1,111.8 361.0,113.9 362.3,111.4 363.0,114.1 365.3,112.6 364.5,115.3 367.3,115.2 365.3,117.2" fill="#262220"/>
<circle cx="361.5" cy="117.7" r="4.2" fill="#2b2725"/>
<polygon points="390.9,118.5 388.2,119.1 389.7,121.5 387.0,120.7 387.1,123.5 385.2,121.4 383.9,123.9 383.2,121.2 380.9,122.7 381.7,120.0 378.9,120.1 380.9,118.1 378.5,116.8 381.2,116.2 379.7,113.8 382.4,114.6 382.3,111.8 384.2,113.9 385.5,111.4 386.2,114.1 388.5,112.6 387.7,115.3 390.5,115.2 388.5,117.2" fill="#262220"/>
<circle cx="384.7" cy="117.7" r="4.2" fill="#2b2725"/>
<circle cx="349.5" cy="117.7" r="3.5" fill="#6d6661" opacity="0.5"/>
<circle cx="349.5" cy="117.7" r="2.7" fill="#2c2826"/>
<circle cx="373.2" cy="117.7" r="3.5" fill="#6d6661" opacity="0.5"/>
<circle cx="373.2" cy="117.7" r="2.7" fill="#2c2826"/>
<polygon points="344.4,141.8 341.7,142.5 343.2,144.8 340.5,144.0 340.6,146.8 338.7,144.8 337.4,147.2 336.7,144.5 334.4,146.0 335.2,143.3 332.4,143.4 334.4,141.5 332.0,140.2 334.7,139.5 333.2,137.2 335.9,138.0 335.8,135.2 337.7,137.2 339.0,134.8 339.7,137.5 342.0,136.0 341.2,138.7 344.0,138.6 342.0,140.5" fill="#262220"/>
<circle cx="338.2" cy="141.0" r="4.2" fill="#2b2725"/>
<polygon points="367.7,141.8 365.0,142.5 366.5,144.8 363.8,144.0 363.9,146.8 362.0,144.8 360.7,147.2 360.0,144.5 357.7,146.0 358.5,143.3 355.7,143.4 357.7,141.5 355.3,140.2 358.0,139.5 356.5,137.2 359.2,138.0 359.1,135.2 361.0,137.2 362.3,134.8 363.0,137.5 365.3,136.0 364.5,138.7 367.3,138.6 365.3,140.5" fill="#262220"/>
<circle cx="361.5" cy="141.0" r="4.2" fill="#2b2725"/>
<polygon points="390.9,141.8 388.2,142.5 389.7,144.8 387.0,144.0 387.1,146.8 385.2,144.8 383.9,147.2 383.2,144.5 380.9,146.0 381.7,143.3 378.9,143.4 380.9,141.5 378.5,140.2 381.2,139.5 379.7,137.2 382.4,138.0 382.3,135.2 384.2,137.2 385.5,134.8 386.2,137.5 388.5,136.0 387.7,138.7 390.5,138.6 388.5,140.5" fill="#262220"/>
<circle cx="384.7" cy="141.0" r="4.2" fill="#2b2725"/>
<circle cx="349.5" cy="141.0" r="3.5" fill="#6d6661" opacity="0.5"/>
<circle cx="349.5" cy="141.0" r="2.7" fill="#2c2826"/>
<circle cx="373.2" cy="141.0" r="3.5" fill="#6d6661" opacity="0.5"/>
<circle cx="373.2" cy="141.0" r="2.7" fill="#2c2826"/>
<polygon points="344.4,165.2 341.7,165.8 343.2,168.2 340.5,167.4 340.6,170.2 338.7,168.1 337.4,170.6 336.7,167.9 334.4,169.4 335.2,166.7 332.4,166.8 334.4,164.8 332.0,163.5 334.7,162.9 333.2,160.5 335.9,161.3 335.8,158.5 337.7,160.6 339.0,158.1 339.7,160.8 342.0,159.3 341.2,162.0 344.0,161.9 342.0,163.9" fill="#262220"/>
<circle cx="338.2" cy="164.4" r="4.2" fill="#2b2725"/>
<polygon points="367.7,165.2 365.0,165.8 366.5,168.2 363.8,167.4 363.9,170.2 362.0,168.1 360.7,170.6 360.0,167.9 357.7,169.4 358.5,166.7 355.7,166.8 357.7,164.8 355.3,163.5 358.0,162.9 356.5,160.5 359.2,161.3 359.1,158.5 361.0,160.6 362.3,158.1 363.0,160.8 365.3,159.3 364.5,162.0 367.3,161.9 365.3,163.9" fill="#262220"/>
<circle cx="361.5" cy="164.4" r="4.2" fill="#2b2725"/>
<polygon points="390.9,165.2 388.2,165.8 389.7,168.2 387.0,167.4 387.1,170.2 385.2,168.1 383.9,170.6 383.2,167.9 380.9,169.4 381.7,166.7 378.9,166.8 380.9,164.8 378.5,163.5 381.2,162.9 379.7,160.5 382.4,161.3 382.3,158.5 384.2,160.6 385.5,158.1 386.2,160.8 388.5,159.3 387.7,162.0 390.5,161.9 388.5,163.9" fill="#262220"/>
<circle cx="384.7" cy="164.4" r="4.2" fill="#2b2725"/>
<circle cx="349.5" cy="164.4" r="3.5" fill="#6d6661" opacity="0.5"/>
<circle cx="349.5" cy="164.4" r="2.7" fill="#2c2826"/>
<circle cx="373.2" cy="164.4" r="3.5" fill="#6d6661" opacity="0.5"/>
<circle cx="373.2" cy="164.4" r="2.7" fill="#2c2826"/>
<polygon points="344.4,188.5 341.7,189.2 343.2,191.5 340.5,190.7 340.6,193.5 338.7,191.5 337.4,193.9 336.7,191.2 334.4,192.7 335.2,190.0 332.4,190.1 334.4,188.2 332.0,186.9 334.7,186.2 333.2,183.9 335.9,184.7 335.8,181.9 337.7,183.9 339.0,181.5 339.7,184.2 342.0,182.7 341.2,185.4 344.0,185.3 342.0,187.2" fill="#262220"/>
<circle cx="338.2" cy="187.7" r="4.2" fill="#2b2725"/>
<polygon points="367.7,188.5 365.0,189.2 366.5,191.5 363.8,190.7 363.9,193.5 362.0,191.5 360.7,193.9 360.0,191.2 357.7,192.7 358.5,190.0 355.7,190.1 357.7,188.2 355.3,186.9 358.0,186.2 356.5,183.9 359.2,184.7 359.1,181.9 361.0,183.9 362.3,181.5 363.0,184.2 365.3,182.7 364.5,185.4 367.3,185.3 365.3,187.2" fill="#262220"/>
<circle cx="361.5" cy="187.7" r="4.2" fill="#2b2725"/>
<polygon points="390.9,188.5 388.2,189.2 389.7,191.5 387.0,190.7 387.1,193.5 385.2,191.5 383.9,193.9 383.2,191.2 380.9,192.7 381.7,190.0 378.9,190.1 380.9,188.2 378.5,186.9 381.2,186.2 379.7,183.9 382.4,184.7 382.3,181.9 384.2,183.9 385.5,181.5 386.2,184.2 388.5,182.7 387.7,185.4 390.5,185.3 388.5,187.2" fill="#262220"/>
<circle cx="384.7" cy="187.7" r="4.2" fill="#2b2725"/>
<circle cx="349.5" cy="187.7" r="3.5" fill="#6d6661" opacity="0.5"/>
<circle cx="349.5" cy="187.7" r="2.7" fill="#2c2826"/>
<circle cx="373.2" cy="187.7" r="3.5" fill="#6d6661" opacity="0.5"/>
<circle cx="373.2" cy="187.7" r="2.7" fill="#2c2826"/>
<polygon points="344.4,211.9 341.7,212.5 343.2,214.9 340.5,214.1 340.6,216.9 338.7,214.8 337.4,217.3 336.7,214.6 334.4,216.1 335.2,213.4 332.4,213.5 334.4,211.5 332.0,210.2 334.7,209.6 333.2,207.2 335.9,208.0 335.8,205.2 337.7,207.3 339.0,204.8 339.7,207.5 342.0,206.0 341.2,208.7 344.0,208.6 342.0,210.6" fill="#262220"/>
<circle cx="338.2" cy="211.1" r="4.2" fill="#2b2725"/>
<polygon points="367.7,211.9 365.0,212.5 366.5,214.9 363.8,214.1 363.9,216.9 362.0,214.8 360.7,217.3 360.0,214.6 357.7,216.1 358.5,213.4 355.7,213.5 357.7,211.5 355.3,210.2 358.0,209.6 356.5,207.2 359.2,208.0 359.1,205.2 361.0,207.3 362.3,204.8 363.0,207.5 365.3,206.0 364.5,208.7 367.3,208.6 365.3,210.6" fill="#262220"/>
<circle cx="361.5" cy="211.1" r="4.2" fill="#2b2725"/>
<polygon points="390.9,211.9 388.2,212.5 389.7,214.9 387.0,214.1 387.1,216.9 385.2,214.8 383.9,217.3 383.2,214.6 380.9,216.1 381.7,213.4 378.9,213.5 380.9,211.5 378.5,210.2 381.2,209.6 379.7,207.2 382.4,208.0 382.3,205.2 384.2,207.3 385.5,204.8 386.2,207.5 388.5,206.0 387.7,208.7 390.5,208.6 388.5,210.6" fill="#262220"/>
<circle cx="384.7" cy="211.1" r="4.2" fill="#2b2725"/>
<circle cx="349.5" cy="211.1" r="3.5" fill="#6d6661" opacity="0.5"/>
<circle cx="349.5" cy="211.1" r="2.7" fill="#2c2826"/>
<circle cx="373.2" cy="211.1" r="3.5" fill="#6d6661" opacity="0.5"/>
<circle cx="373.2" cy="211.1" r="2.7" fill="#2c2826"/>
<polygon points="344.4,235.2 341.7,235.9 343.2,238.2 340.5,237.4 340.6,240.2 338.7,238.2 337.4,240.6 336.7,237.9 334.4,239.4 335.2,236.7 332.4,236.8 334.4,234.9 332.0,233.6 334.7,232.9 333.2,230.6 335.9,231.4 335.8,228.6 337.7,230.6 339.0,228.2 339.7,230.9 342.0,229.4 341.2,232.1 344.0,232.0 342.0,233.9" fill="#262220"/>
<circle cx="338.2" cy="234.4" r="4.2" fill="#2b2725"/>
<polygon points="367.7,235.2 365.0,235.9 366.5,238.2 363.8,237.4 363.9,240.2 362.0,238.2 360.7,240.6 360.0,237.9 357.7,239.4 358.5,236.7 355.7,236.8 357.7,234.9 355.3,233.6 358.0,232.9 356.5,230.6 359.2,231.4 359.1,228.6 361.0,230.6 362.3,228.2 363.0,230.9 365.3,229.4 364.5,232.1 367.3,232.0 365.3,233.9" fill="#262220"/>
<circle cx="361.5" cy="234.4" r="4.2" fill="#2b2725"/>
<polygon points="390.9,235.2 388.2,235.9 389.7,238.2 387.0,237.4 387.1,240.2 385.2,238.2 383.9,240.6 383.2,237.9 380.9,239.4 381.7,236.7 378.9,236.8 380.9,234.9 378.5,233.6 381.2,232.9 379.7,230.6 382.4,231.4 382.3,228.6 384.2,230.6 385.5,228.2 386.2,230.9 388.5,229.4 387.7,232.1 390.5,232.0 388.5,233.9" fill="#262220"/>
<circle cx="384.7" cy="234.4" r="4.2" fill="#2b2725"/>
<circle cx="349.5" cy="234.4" r="3.5" fill="#6d6661" opacity="0.5"/>
<circle cx="349.5" cy="234.4" r="2.7" fill="#2c2826"/>
<circle cx="373.2" cy="234.4" r="3.5" fill="#6d6661" opacity="0.5"/>
<circle cx="373.2" cy="234.4" r="2.7" fill="#2c2826"/>
<polygon points="344.4,258.6 341.7,259.2 343.2,261.6 340.5,260.8 340.6,263.6 338.7,261.5 337.4,264.0 336.7,261.3 334.4,262.8 335.2,260.1 332.4,260.2 334.4,258.2 332.0,256.9 334.7,256.3 333.2,253.9 335.9,254.7 335.8,251.9 337.7,254.0 339.0,251.5 339.7,254.2 342.0,252.7 341.2,255.4 344.0,255.3 342.0,257.3" fill="#262220"/>
<circle cx="338.2" cy="257.8" r="4.2" fill="#2b2725"/>
<polygon points="367.7,258.6 365.0,259.2 366.5,261.6 363.8,260.8 363.9,263.6 362.0,261.5 360.7,264.0 360.0,261.3 357.7,262.8 358.5,260.1 355.7,260.2 357.7,258.2 355.3,256.9 358.0,256.3 356.5,253.9 359.2,254.7 359.1,251.9 361.0,254.0 362.3,251.5 363.0,254.2 365.3,252.7 364.5,255.4 367.3,255.3 365.3,257.3" fill="#262220"/>
<circle cx="361.5" cy="257.8" r="4.2" fill="#2b2725"/>
<polygon points="390.9,258.6 388.2,259.2 389.7,261.6 387.0,260.8 387.1,263.6 385.2,261.5 383.9,264.0 383.2,261.3 380.9,262.8 381.7,260.1 378.9,260.2 380.9,258.2 378.5,256.9 381.2,256.3 379.7,253.9 382.4,254.7 382.3,251.9 384.2,254.0 385.5,251.5 386.2,254.2 388.5,252.7 387.7,255.4 390.5,255.3 388.5,257.3" fill="#262220"/>
<circle cx="384.7" cy="257.8" r="4.2" fill="#2b2725"/>
<circle cx="349.5" cy="257.8" r="3.5" fill="#6d6661" opacity="0.5"/>
<circle cx="349.5" cy="257.8" r="2.7" fill="#2c2826"/>
<circle cx="373.2" cy="257.8" r="3.5" fill="#6d6661" opacity="0.5"/>
<circle cx="373.2" cy="257.8" r="2.7" fill="#2c2826"/>
<polygon points="344.4,281.9 341.7,282.6 343.2,284.9 340.5,284.1 340.6,286.9 338.7,284.9 337.4,287.3 336.7,284.6 334.4,286.1 335.2,283.4 332.4,283.5 334.4,281.6 332.0,280.3 334.7,279.6 333.2,277.3 335.9,278.1 335.8,275.3 337.7,277.3 339.0,274.9 339.7,277.6 342.0,276.1 341.2,278.8 344.0,278.7 342.0,280.6" fill="#262220"/>
<circle cx="338.2" cy="281.1" r="4.2" fill="#2b2725"/>
<polygon points="367.7,281.9 365.0,282.6 366.5,284.9 363.8,284.1 363.9,286.9 362.0,284.9 360.7,287.3 360.0,284.6 357.7,286.1 358.5,283.4 355.7,283.5 357.7,281.6 355.3,280.3 358.0,279.6 356.5,277.3 359.2,278.1 359.1,275.3 361.0,277.3 362.3,274.9 363.0,277.6 365.3,276.1 364.5,278.8 367.3,278.7 365.3,280.6" fill="#262220"/>
<circle cx="361.5" cy="281.1" r="4.2" fill="#2b2725"/>
<polygon points="390.9,281.9 388.2,282.6 389.7,284.9 387.0,284.1 387.1,286.9 385.2,284.9 383.9,287.3 383.2,284.6 380.9,286.1 381.7,283.4 378.9,283.5 380.9,281.6 378.5,280.3 381.2,279.6 379.7,277.3 382.4,278.1 382.3,275.3 384.2,277.3 385.5,274.9 386.2,277.6 388.5,276.1 387.7,278.8 390.5,278.7 388.5,280.6" fill="#262220"/>
<circle cx="384.7" cy="281.1" r="4.2" fill="#2b2725"/>
<circle cx="349.5" cy="281.1" r="3.5" fill="#6d6661" opacity="0.5"/>
<circle cx="349.5" cy="281.1" r="2.7" fill="#2c2826"/>
<circle cx="373.2" cy="281.1" r="3.5" fill="#6d6661" opacity="0.5"/>
<circle cx="373.2" cy="281.1" r="2.7" fill="#2c2826"/>
<g transform="translate(0,0.00)"><path d="M290.1,87.3 L292.5,87.8 L295.0,88.3 L297.4,88.5 L299.8,87.4 L302.3,89.3 L304.7,89.5 L307.1,89.0 L309.6,89.3 L312.0,89.5 Q316.4,89.8 316.4,94 Q316.4,98.3 312,98.5 L309.6,98.8 L307.1,98.4 L304.7,98.3 L302.3,99.4 L299.8,99.3 L297.4,100.3 L295.0,100.5 L292.5,100.3 L290.1,100.0 Z" fill="#1f1f1f" filter="url(#fFluff)"/><path d="M293,89.8 L311,91.3 M292,93.5 L313,93.8 M293,97.2 L311,96.6" stroke="#403f3e" stroke-width="0.7"/><rect x="284.5" y="93.5" width="6" height="1.8" fill="#1d1d1d"/><ellipse cx="282.6" cy="94.4" rx="2.8" ry="2.5" fill="#1d1d1d"/></g>
<g transform="translate(0,0.00)"><path d="M431.90,87.3 L429.50,87.8 L427.00,88.3 L424.60,88.5 L422.20,87.4 L419.70,89.3 L417.30,89.5 L414.90,89.0 L412.40,89.3 L410.00,89.5 Q405.60,89.8 405.60,94 Q405.60,98.3 410.00,98.5 L412.40,98.8 L414.90,98.4 L417.30,98.3 L419.70,99.4 L422.20,99.3 L424.60,100.3 L427.00,100.5 L429.50,100.3 L431.90,100.0 Z" fill="#1f1f1f" filter="url(#fFluff)"/><path d="M429.00,89.8 L411.00,91.3 M430.00,93.5 L409.00,93.8 M429.00,97.2 L411.00,96.6" stroke="#403f3e" stroke-width="0.7"/><rect x="431.5" y="93.5" width="6" height="1.8" fill="#1d1d1d"/><ellipse cx="439.4" cy="94.4" rx="2.8" ry="2.5" fill="#1d1d1d"/></g>
<g transform="translate(0,23.35)"><path d="M290.1,87.3 L292.5,87.8 L295.0,88.3 L297.4,88.5 L299.8,87.4 L302.3,89.3 L304.7,89.5 L307.1,89.0 L309.6,89.3 L312.0,89.5 Q316.4,89.8 316.4,94 Q316.4,98.3 312,98.5 L309.6,98.8 L307.1,98.4 L304.7,98.3 L302.3,99.4 L299.8,99.3 L297.4,100.3 L295.0,100.5 L292.5,100.3 L290.1,100.0 Z" fill="#1f1f1f" filter="url(#fFluff)"/><path d="M293,89.8 L311,91.3 M292,93.5 L313,93.8 M293,97.2 L311,96.6" stroke="#403f3e" stroke-width="0.7"/><rect x="284.5" y="93.5" width="6" height="1.8" fill="#1d1d1d"/><ellipse cx="282.6" cy="94.4" rx="2.8" ry="2.5" fill="#1d1d1d"/></g>
<g transform="translate(0,23.35)"><path d="M431.90,87.3 L429.50,87.8 L427.00,88.3 L424.60,88.5 L422.20,87.4 L419.70,89.3 L417.30,89.5 L414.90,89.0 L412.40,89.3 L410.00,89.5 Q405.60,89.8 405.60,94 Q405.60,98.3 410.00,98.5 L412.40,98.8 L414.90,98.4 L417.30,98.3 L419.70,99.4 L422.20,99.3 L424.60,100.3 L427.00,100.5 L429.50,100.3 L431.90,100.0 Z" fill="#1f1f1f" filter="url(#fFluff)"/><path d="M429.00,89.8 L411.00,91.3 M430.00,93.5 L409.00,93.8 M429.00,97.2 L411.00,96.6" stroke="#403f3e" stroke-width="0.7"/><rect x="431.5" y="93.5" width="6" height="1.8" fill="#1d1d1d"/><ellipse cx="439.4" cy="94.4" rx="2.8" ry="2.5" fill="#1d1d1d"/></g>
<g transform="translate(0,46.70)"><path d="M290.1,87.3 L292.5,87.8 L295.0,88.3 L297.4,88.5 L299.8,87.4 L302.3,89.3 L304.7,89.5 L307.1,89.0 L309.6,89.3 L312.0,89.5 Q316.4,89.8 316.4,94 Q316.4,98.3 312,98.5 L309.6,98.8 L307.1,98.4 L304.7,98.3 L302.3,99.4 L299.8,99.3 L297.4,100.3 L295.0,100.5 L292.5,100.3 L290.1,100.0 Z" fill="#1f1f1f" filter="url(#fFluff)"/><path d="M293,89.8 L311,91.3 M292,93.5 L313,93.8 M293,97.2 L311,96.6" stroke="#403f3e" stroke-width="0.7"/><rect x="284.5" y="93.5" width="6" height="1.8" fill="#1d1d1d"/><ellipse cx="282.6" cy="94.4" rx="2.8" ry="2.5" fill="#1d1d1d"/></g>
<g transform="translate(0,46.70)"><path d="M431.90,87.3 L429.50,87.8 L427.00,88.3 L424.60,88.5 L422.20,87.4 L419.70,89.3 L417.30,89.5 L414.90,89.0 L412.40,89.3 L410.00,89.5 Q405.60,89.8 405.60,94 Q405.60,98.3 410.00,98.5 L412.40,98.8 L414.90,98.4 L417.30,98.3 L419.70,99.4 L422.20,99.3 L424.60,100.3 L427.00,100.5 L429.50,100.3 L431.90,100.0 Z" fill="#1f1f1f" filter="url(#fFluff)"/><path d="M429.00,89.8 L411.00,91.3 M430.00,93.5 L409.00,93.8 M429.00,97.2 L411.00,96.6" stroke="#403f3e" stroke-width="0.7"/><rect x="431.5" y="93.5" width="6" height="1.8" fill="#1d1d1d"/><ellipse cx="439.4" cy="94.4" rx="2.8" ry="2.5" fill="#1d1d1d"/></g>
<g transform="translate(0,70.05)"><path d="M290.1,87.3 L292.5,87.8 L295.0,88.3 L297.4,88.5 L299.8,87.4 L302.3,89.3 L304.7,89.5 L307.1,89.0 L309.6,89.3 L312.0,89.5 Q316.4,89.8 316.4,94 Q316.4,98.3 312,98.5 L309.6,98.8 L307.1,98.4 L304.7,98.3 L302.3,99.4 L299.8,99.3 L297.4,100.3 L295.0,100.5 L292.5,100.3 L290.1,100.0 Z" fill="#1f1f1f" filter="url(#fFluff)"/><path d="M293,89.8 L311,91.3 M292,93.5 L313,93.8 M293,97.2 L311,96.6" stroke="#403f3e" stroke-width="0.7"/><rect x="284.5" y="93.5" width="6" height="1.8" fill="#1d1d1d"/><ellipse cx="282.6" cy="94.4" rx="2.8" ry="2.5" fill="#1d1d1d"/></g>
<g transform="translate(0,70.05)"><path d="M431.90,87.3 L429.50,87.8 L427.00,88.3 L424.60,88.5 L422.20,87.4 L419.70,89.3 L417.30,89.5 L414.90,89.0 L412.40,89.3 L410.00,89.5 Q405.60,89.8 405.60,94 Q405.60,98.3 410.00,98.5 L412.40,98.8 L414.90,98.4 L417.30,98.3 L419.70,99.4 L422.20,99.3 L424.60,100.3 L427.00,100.5 L429.50,100.3 L431.90,100.0 Z" fill="#1f1f1f" filter="url(#fFluff)"/><path d="M429.00,89.8 L411.00,91.3 M430.00,93.5 L409.00,93.8 M429.00,97.2 L411.00,96.6" stroke="#403f3e" stroke-width="0.7"/><rect x="431.5" y="93.5" width="6" height="1.8" fill="#1d1d1d"/><ellipse cx="439.4" cy="94.4" rx="2.8" ry="2.5" fill="#1d1d1d"/></g>
<g transform="translate(0,93.40)"><path d="M290.1,87.3 L292.5,87.8 L295.0,88.3 L297.4,88.5 L299.8,87.4 L302.3,89.3 L304.7,89.5 L307.1,89.0 L309.6,89.3 L312.0,89.5 Q316.4,89.8 316.4,94 Q316.4,98.3 312,98.5 L309.6,98.8 L307.1,98.4 L304.7,98.3 L302.3,99.4 L299.8,99.3 L297.4,100.3 L295.0,100.5 L292.5,100.3 L290.1,100.0 Z" fill="#1f1f1f" filter="url(#fFluff)"/><path d="M293,89.8 L311,91.3 M292,93.5 L313,93.8 M293,97.2 L311,96.6" stroke="#403f3e" stroke-width="0.7"/><rect x="284.5" y="93.5" width="6" height="1.8" fill="#1d1d1d"/><ellipse cx="282.6" cy="94.4" rx="2.8" ry="2.5" fill="#1d1d1d"/></g>
<g transform="translate(0,93.40)"><path d="M431.90,87.3 L429.50,87.8 L427.00,88.3 L424.60,88.5 L422.20,87.4 L419.70,89.3 L417.30,89.5 L414.90,89.0 L412.40,89.3 L410.00,89.5 Q405.60,89.8 405.60,94 Q405.60,98.3 410.00,98.5 L412.40,98.8 L414.90,98.4 L417.30,98.3 L419.70,99.4 L422.20,99.3 L424.60,100.3 L427.00,100.5 L429.50,100.3 L431.90,100.0 Z" fill="#1f1f1f" filter="url(#fFluff)"/><path d="M429.00,89.8 L411.00,91.3 M430.00,93.5 L409.00,93.8 M429.00,97.2 L411.00,96.6" stroke="#403f3e" stroke-width="0.7"/><rect x="431.5" y="93.5" width="6" height="1.8" fill="#1d1d1d"/><ellipse cx="439.4" cy="94.4" rx="2.8" ry="2.5" fill="#1d1d1d"/></g>
<g transform="translate(0,116.75)"><path d="M290.1,87.3 L292.5,87.8 L295.0,88.3 L297.4,88.5 L299.8,87.4 L302.3,89.3 L304.7,89.5 L307.1,89.0 L309.6,89.3 L312.0,89.5 Q316.4,89.8 316.4,94 Q316.4,98.3 312,98.5 L309.6,98.8 L307.1,98.4 L304.7,98.3 L302.3,99.4 L299.8,99.3 L297.4,100.3 L295.0,100.5 L292.5,100.3 L290.1,100.0 Z" fill="#1f1f1f" filter="url(#fFluff)"/><path d="M293,89.8 L311,91.3 M292,93.5 L313,93.8 M293,97.2 L311,96.6" stroke="#403f3e" stroke-width="0.7"/><rect x="284.5" y="93.5" width="6" height="1.8" fill="#1d1d1d"/><ellipse cx="282.6" cy="94.4" rx="2.8" ry="2.5" fill="#1d1d1d"/></g>
<g transform="translate(0,116.75)"><path d="M431.90,87.3 L429.50,87.8 L427.00,88.3 L424.60,88.5 L422.20,87.4 L419.70,89.3 L417.30,89.5 L414.90,89.0 L412.40,89.3 L410.00,89.5 Q405.60,89.8 405.60,94 Q405.60,98.3 410.00,98.5 L412.40,98.8 L414.90,98.4 L417.30,98.3 L419.70,99.4 L422.20,99.3 L424.60,100.3 L427.00,100.5 L429.50,100.3 L431.90,100.0 Z" fill="#1f1f1f" filter="url(#fFluff)"/><path d="M429.00,89.8 L411.00,91.3 M430.00,93.5 L409.00,93.8 M429.00,97.2 L411.00,96.6" stroke="#403f3e" stroke-width="0.7"/><rect x="431.5" y="93.5" width="6" height="1.8" fill="#1d1d1d"/><ellipse cx="439.4" cy="94.4" rx="2.8" ry="2.5" fill="#1d1d1d"/></g>
<g transform="translate(0,140.10)"><path d="M290.1,87.3 L292.5,87.8 L295.0,88.3 L297.4,88.5 L299.8,87.4 L302.3,89.3 L304.7,89.5 L307.1,89.0 L309.6,89.3 L312.0,89.5 Q316.4,89.8 316.4,94 Q316.4,98.3 312,98.5 L309.6,98.8 L307.1,98.4 L304.7,98.3 L302.3,99.4 L299.8,99.3 L297.4,100.3 L295.0,100.5 L292.5,100.3 L290.1,100.0 Z" fill="#1f1f1f" filter="url(#fFluff)"/><path d="M293,89.8 L311,91.3 M292,93.5 L313,93.8 M293,97.2 L311,96.6" stroke="#403f3e" stroke-width="0.7"/><rect x="284.5" y="93.5" width="6" height="1.8" fill="#1d1d1d"/><ellipse cx="282.6" cy="94.4" rx="2.8" ry="2.5" fill="#1d1d1d"/></g>
<g transform="translate(0,140.10)"><path d="M431.90,87.3 L429.50,87.8 L427.00,88.3 L424.60,88.5 L422.20,87.4 L419.70,89.3 L417.30,89.5 L414.90,89.0 L412.40,89.3 L410.00,89.5 Q405.60,89.8 405.60,94 Q405.60,98.3 410.00,98.5 L412.40,98.8 L414.90,98.4 L417.30,98.3 L419.70,99.4 L422.20,99.3 L424.60,100.3 L427.00,100.5 L429.50,100.3 L431.90,100.0 Z" fill="#1f1f1f" filter="url(#fFluff)"/><path d="M429.00,89.8 L411.00,91.3 M430.00,93.5 L409.00,93.8 M429.00,97.2 L411.00,96.6" stroke="#403f3e" stroke-width="0.7"/><rect x="431.5" y="93.5" width="6" height="1.8" fill="#1d1d1d"/><ellipse cx="439.4" cy="94.4" rx="2.8" ry="2.5" fill="#1d1d1d"/></g>
<g transform="translate(0,163.45)"><path d="M290.1,87.3 L292.5,87.8 L295.0,88.3 L297.4,88.5 L299.8,87.4 L302.3,89.3 L304.7,89.5 L307.1,89.0 L309.6,89.3 L312.0,89.5 Q316.4,89.8 316.4,94 Q316.4,98.3 312,98.5 L309.6,98.8 L307.1,98.4 L304.7,98.3 L302.3,99.4 L299.8,99.3 L297.4,100.3 L295.0,100.5 L292.5,100.3 L290.1,100.0 Z" fill="#1f1f1f" filter="url(#fFluff)"/><path d="M293,89.8 L311,91.3 M292,93.5 L313,93.8 M293,97.2 L311,96.6" stroke="#403f3e" stroke-width="0.7"/><rect x="284.5" y="93.5" width="6" height="1.8" fill="#1d1d1d"/><ellipse cx="282.6" cy="94.4" rx="2.8" ry="2.5" fill="#1d1d1d"/></g>
<g transform="translate(0,163.45)"><path d="M431.90,87.3 L429.50,87.8 L427.00,88.3 L424.60,88.5 L422.20,87.4 L419.70,89.3 L417.30,89.5 L414.90,89.0 L412.40,89.3 L410.00,89.5 Q405.60,89.8 405.60,94 Q405.60,98.3 410.00,98.5 L412.40,98.8 L414.90,98.4 L417.30,98.3 L419.70,99.4 L422.20,99.3 L424.60,100.3 L427.00,100.5 L429.50,100.3 L431.90,100.0 Z" fill="#1f1f1f" filter="url(#fFluff)"/><path d="M429.00,89.8 L411.00,91.3 M430.00,93.5 L409.00,93.8 M429.00,97.2 L411.00,96.6" stroke="#403f3e" stroke-width="0.7"/><rect x="431.5" y="93.5" width="6" height="1.8" fill="#1d1d1d"/><ellipse cx="439.4" cy="94.4" rx="2.8" ry="2.5" fill="#1d1d1d"/></g>
<g transform="translate(0,186.80)"><path d="M290.1,87.3 L292.5,87.8 L295.0,88.3 L297.4,88.5 L299.8,87.4 L302.3,89.3 L304.7,89.5 L307.1,89.0 L309.6,89.3 L312.0,89.5 Q316.4,89.8 316.4,94 Q316.4,98.3 312,98.5 L309.6,98.8 L307.1,98.4 L304.7,98.3 L302.3,99.4 L299.8,99.3 L297.4,100.3 L295.0,100.5 L292.5,100.3 L290.1,100.0 Z" fill="#1f1f1f" filter="url(#fFluff)"/><path d="M293,89.8 L311,91.3 M292,93.5 L313,93.8 M293,97.2 L311,96.6" stroke="#403f3e" stroke-width="0.7"/><rect x="284.5" y="93.5" width="6" height="1.8" fill="#1d1d1d"/><ellipse cx="282.6" cy="94.4" rx="2.8" ry="2.5" fill="#1d1d1d"/></g>
<g transform="translate(0,186.80)"><path d="M431.90,87.3 L429.50,87.8 L427.00,88.3 L424.60,88.5 L422.20,87.4 L419.70,89.3 L417.30,89.5 L414.90,89.0 L412.40,89.3 L410.00,89.5 Q405.60,89.8 405.60,94 Q405.60,98.3 410.00,98.5 L412.40,98.8 L414.90,98.4 L417.30,98.3 L419.70,99.4 L422.20,99.3 L424.60,100.3 L427.00,100.5 L429.50,100.3 L431.90,100.0 Z" fill="#1f1f1f" filter="url(#fFluff)"/><path d="M429.00,89.8 L411.00,91.3 M430.00,93.5 L409.00,93.8 M429.00,97.2 L411.00,96.6" stroke="#403f3e" stroke-width="0.7"/><rect x="431.5" y="93.5" width="6" height="1.8" fill="#1d1d1d"/><ellipse cx="439.4" cy="94.4" rx="2.8" ry="2.5" fill="#1d1d1d"/></g>
</g>
<g id="brush2">
<path d="M586.8,71.5 L586.8,42.5 Q586.8,40.1 589,40.1 L636.8,40.1 Q639,40.1 639,42.5 L639,71.5 Z" fill="url(#gCap2)"/>
<path d="M588.2,41 L588.2,71 M590.6,41 L590.6,71 M592.9,41 L592.9,71 M595.2,41 L595.2,71 M597.6,41 L597.6,71 M600.0,41 L600.0,71 M602.3,41 L602.3,71 M604.7,41 L604.7,71 M607.0,41 L607.0,71 M609.4,41 L609.4,71 M611.7,41 L611.7,71 M614.1,41 L614.1,71 M616.4,41 L616.4,71 M618.8,41 L618.8,71 M621.1,41 L621.1,71 M623.5,41 L623.5,71 M625.8,41 L625.8,71 M628.2,41 L628.2,71 M630.5,41 L630.5,71 M632.9,41 L632.9,71 M635.2,41 L635.2,71 M637.6,41 L637.6,71" stroke="#a39d96" stroke-width="0.8" opacity="0.8"/>
<path d="M586.8,71.3 L639,71.3 L639,74.5 Q640,77.5 660,78.2 L674,78.2 L674,85 L551.7,85 L551.7,78.2 L566,78.2 Q586,77.5 586.8,74.5 Z" fill="#dbd5ce"/>
<rect x="551.7" y="84" width="122.3" height="1" fill="#b9b2aa"/>
<rect x="554.3" y="85" width="117.3" height="209" fill="url(#gB2)"/>
<rect x="575" y="298.7" width="74.6" height="20.3" fill="#d7d1ca"/>
<rect x="575" y="298.7" width="4.5" height="20.3" fill="#aca59e"/>
<rect x="645" y="298.7" width="4.6" height="20.3" fill="#aca59e"/>
<g transform="translate(598.4,318.6) scale(1.0,1.1)"><path d="M3.2,0.5 L3.4,-7.5 Q4,-11.8 8,-12 L13.3,-12.2 Q16.6,-12 16.3,-10 Q16,-8.3 13.5,-6.5 Q10.6,-4.6 10.5,0.5 Z" fill="#c4bcb4"/><path d="M0,0.5 L0.4,-8 Q1.2,-14 7,-14.6 L13.5,-14.9 Q19.5,-14.5 19.3,-10.5 Q19,-7.5 15.5,-5 Q13.6,-3.5 13.6,0.5" fill="none" stroke="#a79f97" stroke-width="4.6"/><path d="M0,0.5 L0.4,-8 Q1.2,-14 7,-14.6 L13.5,-14.9 Q19.5,-14.5 19.3,-10.5 Q19,-7.5 15.5,-5 Q13.6,-3.5 13.6,0.5" fill="none" stroke="#e4dfd9" stroke-width="3"/></g>
<rect x="551.4" y="293.7" width="122.7" height="5" fill="#dcd6cf"/>
<rect x="551.4" y="293.7" width="122.7" height="0.9" fill="#c2bbb3"/>
<rect x="551.4" y="298.2" width="122.7" height="0.8" fill="#b2aba3"/>
<circle cx="599.9" cy="103.1" r="4.9" fill="#8c8782" opacity="0.5"/>
<circle cx="599.9" cy="103.1" r="3.7" fill="#2a2625"/>
<circle cx="612.8" cy="98.5" r="4.9" fill="#8c8782" opacity="0.5"/>
<circle cx="612.8" cy="98.5" r="3.7" fill="#2a2625"/>
<circle cx="625.8" cy="94.0" r="4.9" fill="#8c8782" opacity="0.5"/>
<circle cx="625.8" cy="94.0" r="3.7" fill="#2a2625"/>
<rect x="598.1" y="109.3" width="13.2" height="4.8" rx="2.2" fill="#ffffff" transform="rotate(-20 604.7 111.7)"/>
<rect x="615.0" y="103.3" width="13.2" height="4.8" rx="2.2" fill="#ffffff" transform="rotate(-20 621.6 105.7)"/>
<circle cx="599.9" cy="122.8" r="4.9" fill="#8c8782" opacity="0.5"/>
<circle cx="599.9" cy="122.8" r="3.7" fill="#2a2625"/>
<circle cx="612.8" cy="118.2" r="4.9" fill="#8c8782" opacity="0.5"/>
<circle cx="612.8" cy="118.2" r="3.7" fill="#2a2625"/>
<circle cx="625.8" cy="113.7" r="4.9" fill="#8c8782" opacity="0.5"/>
<circle cx="625.8" cy="113.7" r="3.7" fill="#2a2625"/>
<rect x="598.1" y="129.0" width="13.2" height="4.8" rx="2.2" fill="#ffffff" transform="rotate(-20 604.7 131.4)"/>
<rect x="615.0" y="123.0" width="13.2" height="4.8" rx="2.2" fill="#ffffff" transform="rotate(-20 621.6 125.4)"/>
<circle cx="599.9" cy="142.5" r="4.9" fill="#8c8782" opacity="0.5"/>
<circle cx="599.9" cy="142.5" r="3.7" fill="#2a2625"/>
<circle cx="612.8" cy="137.9" r="4.9" fill="#8c8782" opacity="0.5"/>
<circle cx="612.8" cy="137.9" r="3.7" fill="#2a2625"/>
<circle cx="625.8" cy="133.4" r="4.9" fill="#8c8782" opacity="0.5"/>
<circle cx="625.8" cy="133.4" r="3.7" fill="#2a2625"/>
<rect x="598.1" y="148.7" width="13.2" height="4.8" rx="2.2" fill="#ffffff" transform="rotate(-20 604.7 151.1)"/>
<rect x="615.0" y="142.7" width="13.2" height="4.8" rx="2.2" fill="#ffffff" transform="rotate(-20 621.6 145.1)"/>
<circle cx="599.9" cy="162.3" r="4.9" fill="#8c8782" opacity="0.5"/>
<circle cx="599.9" cy="162.3" r="3.7" fill="#2a2625"/>
<circle cx="612.8" cy="157.7" r="4.9" fill="#8c8782" opacity="0.5"/>
<circle cx="612.8" cy="157.7" r="3.7" fill="#2a2625"/>
<circle cx="625.8" cy="153.2" r="4.9" fill="#8c8782" opacity="0.5"/>
<circle cx="625.8" cy="153.2" r="3.7" fill="#2a2625"/>
<rect x="598.1" y="168.5" width="13.2" height="4.8" rx="2.2" fill="#ffffff" transform="rotate(-20 604.7 170.9)"/>
<rect x="615.0" y="162.5" width="13.2" height="4.8" rx="2.2" fill="#ffffff" transform="rotate(-20 621.6 164.9)"/>
<circle cx="599.9" cy="182.0" r="4.9" fill="#8c8782" opacity="0.5"/>
<circle cx="599.9" cy="182.0" r="3.7" fill="#2a2625"/>
<circle cx="612.8" cy="177.4" r="4.9" fill="#8c8782" opacity="0.5"/>
<circle cx="612.8" cy="177.4" r="3.7" fill="#2a2625"/>
<circle cx="625.8" cy="172.9" r="4.9" fill="#8c8782" opacity="0.5"/>
<circle cx="625.8" cy="172.9" r="3.7" fill="#2a2625"/>
<rect x="598.1" y="188.2" width="13.2" height="4.8" rx="2.2" fill="#ffffff" transform="rotate(-20 604.7 190.6)"/>
<rect x="615.0" y="182.2" width="13.2" height="4.8" rx="2.2" fill="#ffffff" transform="rotate(-20 621.6 184.6)"/>
<circle cx="599.9" cy="201.7" r="4.9" fill="#8c8782" opacity="0.5"/>
<circle cx="599.9" cy="201.7" r="3.7" fill="#2a2625"/>
<circle cx="612.8" cy="197.1" r="4.9" fill="#8c8782" opacity="0.5"/>
<circle cx="612.8" cy="197.1" r="3.7" fill="#2a2625"/>
<circle cx="625.8" cy="192.6" r="4.9" fill="#8c8782" opacity="0.5"/>
<circle cx="625.8" cy="192.6" r="3.7" fill="#2a2625"/>
<rect x="598.1" y="207.9" width="13.2" height="4.8" rx="2.2" fill="#ffffff" transform="rotate(-20 604.7 210.3)"/>
<rect x="615.0" y="201.9" width="13.2" height="4.8" rx="2.2" fill="#ffffff" transform="rotate(-20 621.6 204.3)"/>
<circle cx="599.9" cy="221.4" r="4.9" fill="#8c8782" opacity="0.5"/>
<circle cx="599.9" cy="221.4" r="3.7" fill="#2a2625"/>
<circle cx="612.8" cy="216.8" r="4.9" fill="#8c8782" opacity="0.5"/>
<circle cx="612.8" cy="216.8" r="3.7" fill="#2a2625"/>
<circle cx="625.8" cy="212.3" r="4.9" fill="#8c8782" opacity="0.5"/>
<circle cx="625.8" cy="212.3" r="3.7" fill="#2a2625"/>
<rect x="598.1" y="227.6" width="13.2" height="4.8" rx="2.2" fill="#ffffff" transform="rotate(-20 604.7 230.0)"/>
<rect x="615.0" y="221.6" width="13.2" height="4.8" rx="2.2" fill="#ffffff" transform="rotate(-20 621.6 224.0)"/>
<circle cx="599.9" cy="241.1" r="4.9" fill="#8c8782" opacity="0.5"/>
<circle cx="599.9" cy="241.1" r="3.7" fill="#2a2625"/>
<circle cx="612.8" cy="236.5" r="4.9" fill="#8c8782" opacity="0.5"/>
<circle cx="612.8" cy="236.5" r="3.7" fill="#2a2625"/>
<circle cx="625.8" cy="232.0" r="4.9" fill="#8c8782" opacity="0.5"/>
<circle cx="625.8" cy="232.0" r="3.7" fill="#2a2625"/>
<rect x="598.1" y="247.3" width="13.2" height="4.8" rx="2.2" fill="#ffffff" transform="rotate(-20 604.7 249.7)"/>
<rect x="615.0" y="241.3" width="13.2" height="4.8" rx="2.2" fill="#ffffff" transform="rotate(-20 621.6 243.7)"/>
<circle cx="599.9" cy="260.9" r="4.9" fill="#8c8782" opacity="0.5"/>
<circle cx="599.9" cy="260.9" r="3.7" fill="#2a2625"/>
<circle cx="612.8" cy="256.3" r="4.9" fill="#8c8782" opacity="0.5"/>
<circle cx="612.8" cy="256.3" r="3.7" fill="#2a2625"/>
<circle cx="625.8" cy="251.8" r="4.9" fill="#8c8782" opacity="0.5"/>
<circle cx="625.8" cy="251.8" r="3.7" fill="#2a2625"/>
<rect x="598.1" y="267.1" width="13.2" height="4.8" rx="2.2" fill="#ffffff" transform="rotate(-20 604.7 269.5)"/>
<rect x="615.0" y="261.1" width="13.2" height="4.8" rx="2.2" fill="#ffffff" transform="rotate(-20 621.6 263.5)"/>
<circle cx="599.9" cy="280.6" r="4.9" fill="#8c8782" opacity="0.5"/>
<circle cx="599.9" cy="280.6" r="3.7" fill="#2a2625"/>
<circle cx="612.8" cy="276.0" r="4.9" fill="#8c8782" opacity="0.5"/>
<circle cx="612.8" cy="276.0" r="3.7" fill="#2a2625"/>
<circle cx="625.8" cy="271.5" r="4.9" fill="#8c8782" opacity="0.5"/>
<circle cx="625.8" cy="271.5" r="3.7" fill="#2a2625"/>
<g transform="translate(0,0.10)"><path d="M575,110.8 L584,113.8" stroke="#ffffff" stroke-width="2.6" stroke-linecap="round"/><path d="M534.5,91.7 L546,89.6 Q548,88 551,88.4 L560,90.6 L575,96.6 Q583,99 586.5,100.8 Q588.8,102.6 587,105.6 Q584.5,107.4 578,107.1 L566,106 L555,104.3 L545,103.9 L534.5,104.7 Z" fill="#222222" filter="url(#fFluff)"/><path d="M549,90.5 Q564,93 584,101.5 M547,94.5 Q566,97.5 585,104.5 M548,99 Q566,101.5 582,106 M552,88.8 L556,86.8 M558,90 L561,88 M556,95.5 L572,100.5 M560,102.5 L576,104.5" stroke="#4d4b4a" stroke-width="0.85" fill="none"/><path d="M534.5,91.8 L546,89.8 L546,103.9 L534.5,104.7 Z" fill="#181818"/><rect x="527.5" y="98" width="6.6" height="1.8" fill="#1c1c1c"/><ellipse cx="525.6" cy="98.9" rx="2.7" ry="2.5" fill="#1c1c1c"/></g>
<g transform="translate(0,0.10)"><path d="M650.50,110.8 L641.50,113.8" stroke="#ffffff" stroke-width="2.6" stroke-linecap="round"/><path d="M691.00,91.7 L679.50,89.6 Q677.50,88 674.50,88.4 L665.50,90.6 L650.50,96.6 Q642.50,99 639.00,100.8 Q636.70,102.6 638.50,105.6 Q641.00,107.4 647.50,107.1 L659.50,106 L670.50,104.3 L680.50,103.9 L691.00,104.7 Z" fill="#222222" filter="url(#fFluff)"/><path d="M676.50,90.5 Q661.50,93 641.50,101.5 M678.50,94.5 Q659.50,97.5 640.50,104.5 M677.50,99 Q659.50,101.5 643.50,106 M673.50,88.8 L669.50,86.8 M667.50,90 L664.50,88 M669.50,95.5 L653.50,100.5 M665.50,102.5 L649.50,104.5" stroke="#4d4b4a" stroke-width="0.85" fill="none"/><path d="M691.00,91.8 L679.50,89.8 L679.50,103.9 L691.00,104.7 Z" fill="#181818"/><rect x="691.4" y="98" width="6.6" height="1.8" fill="#1c1c1c"/><ellipse cx="699.9" cy="98.9" rx="2.7" ry="2.5" fill="#1c1c1c"/></g>
<g transform="translate(0,19.82)"><path d="M575,110.8 L584,113.8" stroke="#ffffff" stroke-width="2.6" stroke-linecap="round"/><path d="M534.5,91.7 L546,89.6 Q548,88 551,88.4 L560,90.6 L575,96.6 Q583,99 586.5,100.8 Q588.8,102.6 587,105.6 Q584.5,107.4 578,107.1 L566,106 L555,104.3 L545,103.9 L534.5,104.7 Z" fill="#222222" filter="url(#fFluff)"/><path d="M549,90.5 Q564,93 584,101.5 M547,94.5 Q566,97.5 585,104.5 M548,99 Q566,101.5 582,106 M552,88.8 L556,86.8 M558,90 L561,88 M556,95.5 L572,100.5 M560,102.5 L576,104.5" stroke="#4d4b4a" stroke-width="0.85" fill="none"/><path d="M534.5,91.8 L546,89.8 L546,103.9 L534.5,104.7 Z" fill="#181818"/><rect x="527.5" y="98" width="6.6" height="1.8" fill="#1c1c1c"/><ellipse cx="525.6" cy="98.9" rx="2.7" ry="2.5" fill="#1c1c1c"/></g>
<g transform="translate(0,19.82)"><path d="M650.50,110.8 L641.50,113.8" stroke="#ffffff" stroke-width="2.6" stroke-linecap="round"/><path d="M691.00,91.7 L679.50,89.6 Q677.50,88 674.50,88.4 L665.50,90.6 L650.50,96.6 Q642.50,99 639.00,100.8 Q636.70,102.6 638.50,105.6 Q641.00,107.4 647.50,107.1 L659.50,106 L670.50,104.3 L680.50,103.9 L691.00,104.7 Z" fill="#222222" filter="url(#fFluff)"/><path d="M676.50,90.5 Q661.50,93 641.50,101.5 M678.50,94.5 Q659.50,97.5 640.50,104.5 M677.50,99 Q659.50,101.5 643.50,106 M673.50,88.8 L669.50,86.8 M667.50,90 L664.50,88 M669.50,95.5 L653.50,100.5 M665.50,102.5 L649.50,104.5" stroke="#4d4b4a" stroke-width="0.85" fill="none"/><path d="M691.00,91.8 L679.50,89.8 L679.50,103.9 L691.00,104.7 Z" fill="#181818"/><rect x="691.4" y="98" width="6.6" height="1.8" fill="#1c1c1c"/><ellipse cx="699.9" cy="98.9" rx="2.7" ry="2.5" fill="#1c1c1c"/></g>
<g transform="translate(0,39.54)"><path d="M575,110.8 L584,113.8" stroke="#ffffff" stroke-width="2.6" stroke-linecap="round"/><path d="M534.5,91.7 L546,89.6 Q548,88 551,88.4 L560,90.6 L575,96.6 Q583,99 586.5,100.8 Q588.8,102.6 587,105.6 Q584.5,107.4 578,107.1 L566,106 L555,104.3 L545,103.9 L534.5,104.7 Z" fill="#222222" filter="url(#fFluff)"/><path d="M549,90.5 Q564,93 584,101.5 M547,94.5 Q566,97.5 585,104.5 M548,99 Q566,101.5 582,106 M552,88.8 L556,86.8 M558,90 L561,88 M556,95.5 L572,100.5 M560,102.5 L576,104.5" stroke="#4d4b4a" stroke-width="0.85" fill="none"/><path d="M534.5,91.8 L546,89.8 L546,103.9 L534.5,104.7 Z" fill="#181818"/><rect x="527.5" y="98" width="6.6" height="1.8" fill="#1c1c1c"/><ellipse cx="525.6" cy="98.9" rx="2.7" ry="2.5" fill="#1c1c1c"/></g>
<g transform="translate(0,39.54)"><path d="M650.50,110.8 L641.50,113.8" stroke="#ffffff" stroke-width="2.6" stroke-linecap="round"/><path d="M691.00,91.7 L679.50,89.6 Q677.50,88 674.50,88.4 L665.50,90.6 L650.50,96.6 Q642.50,99 639.00,100.8 Q636.70,102.6 638.50,105.6 Q641.00,107.4 647.50,107.1 L659.50,106 L670.50,104.3 L680.50,103.9 L691.00,104.7 Z" fill="#222222" filter="url(#fFluff)"/><path d="M676.50,90.5 Q661.50,93 641.50,101.5 M678.50,94.5 Q659.50,97.5 640.50,104.5 M677.50,99 Q659.50,101.5 643.50,106 M673.50,88.8 L669.50,86.8 M667.50,90 L664.50,88 M669.50,95.5 L653.50,100.5 M665.50,102.5 L649.50,104.5" stroke="#4d4b4a" stroke-width="0.85" fill="none"/><path d="M691.00,91.8 L679.50,89.8 L679.50,103.9 L691.00,104.7 Z" fill="#181818"/><rect x="691.4" y="98" width="6.6" height="1.8" fill="#1c1c1c"/><ellipse cx="699.9" cy="98.9" rx="2.7" ry="2.5" fill="#1c1c1c"/></g>
<g transform="translate(0,59.26)"><path d="M575,110.8 L584,113.8" stroke="#ffffff" stroke-width="2.6" stroke-linecap="round"/><path d="M534.5,91.7 L546,89.6 Q548,88 551,88.4 L560,90.6 L575,96.6 Q583,99 586.5,100.8 Q588.8,102.6 587,105.6 Q584.5,107.4 578,107.1 L566,106 L555,104.3 L545,103.9 L534.5,104.7 Z" fill="#222222" filter="url(#fFluff)"/><path d="M549,90.5 Q564,93 584,101.5 M547,94.5 Q566,97.5 585,104.5 M548,99 Q566,101.5 582,106 M552,88.8 L556,86.8 M558,90 L561,88 M556,95.5 L572,100.5 M560,102.5 L576,104.5" stroke="#4d4b4a" stroke-width="0.85" fill="none"/><path d="M534.5,91.8 L546,89.8 L546,103.9 L534.5,104.7 Z" fill="#181818"/><rect x="527.5" y="98" width="6.6" height="1.8" fill="#1c1c1c"/><ellipse cx="525.6" cy="98.9" rx="2.7" ry="2.5" fill="#1c1c1c"/></g>
<g transform="translate(0,59.26)"><path d="M650.50,110.8 L641.50,113.8" stroke="#ffffff" stroke-width="2.6" stroke-linecap="round"/><path d="M691.00,91.7 L679.50,89.6 Q677.50,88 674.50,88.4 L665.50,90.6 L650.50,96.6 Q642.50,99 639.00,100.8 Q636.70,102.6 638.50,105.6 Q641.00,107.4 647.50,107.1 L659.50,106 L670.50,104.3 L680.50,103.9 L691.00,104.7 Z" fill="#222222" filter="url(#fFluff)"/><path d="M676.50,90.5 Q661.50,93 641.50,101.5 M678.50,94.5 Q659.50,97.5 640.50,104.5 M677.50,99 Q659.50,101.5 643.50,106 M673.50,88.8 L669.50,86.8 M667.50,90 L664.50,88 M669.50,95.5 L653.50,100.5 M665.50,102.5 L649.50,104.5" stroke="#4d4b4a" stroke-width="0.85" fill="none"/><path d="M691.00,91.8 L679.50,89.8 L679.50,103.9 L691.00,104.7 Z" fill="#181818"/><rect x="691.4" y="98" width="6.6" height="1.8" fill="#1c1c1c"/><ellipse cx="699.9" cy="98.9" rx="2.7" ry="2.5" fill="#1c1c1c"/></g>
<g transform="translate(0,78.98)"><path d="M575,110.8 L584,113.8" stroke="#ffffff" stroke-width="2.6" stroke-linecap="round"/><path d="M534.5,91.7 L546,89.6 Q548,88 551,88.4 L560,90.6 L575,96.6 Q583,99 586.5,100.8 Q588.8,102.6 587,105.6 Q584.5,107.4 578,107.1 L566,106 L555,104.3 L545,103.9 L534.5,104.7 Z" fill="#222222" filter="url(#fFluff)"/><path d="M549,90.5 Q564,93 584,101.5 M547,94.5 Q566,97.5 585,104.5 M548,99 Q566,101.5 582,106 M552,88.8 L556,86.8 M558,90 L561,88 M556,95.5 L572,100.5 M560,102.5 L576,104.5" stroke="#4d4b4a" stroke-width="0.85" fill="none"/><path d="M534.5,91.8 L546,89.8 L546,103.9 L534.5,104.7 Z" fill="#181818"/><rect x="527.5" y="98" width="6.6" height="1.8" fill="#1c1c1c"/><ellipse cx="525.6" cy="98.9" rx="2.7" ry="2.5" fill="#1c1c1c"/></g>
<g transform="translate(0,78.98)"><path d="M650.50,110.8 L641.50,113.8" stroke="#ffffff" stroke-width="2.6" stroke-linecap="round"/><path d="M691.00,91.7 L679.50,89.6 Q677.50,88 674.50,88.4 L665.50,90.6 L650.50,96.6 Q642.50,99 639.00,100.8 Q636.70,102.6 638.50,105.6 Q641.00,107.4 647.50,107.1 L659.50,106 L670.50,104.3 L680.50,103.9 L691.00,104.7 Z" fill="#222222" filter="url(#fFluff)"/><path d="M676.50,90.5 Q661.50,93 641.50,101.5 M678.50,94.5 Q659.50,97.5 640.50,104.5 M677.50,99 Q659.50,101.5 643.50,106 M673.50,88.8 L669.50,86.8 M667.50,90 L664.50,88 M669.50,95.5 L653.50,100.5 M665.50,102.5 L649.50,104.5" stroke="#4d4b4a" stroke-width="0.85" fill="none"/><path d="M691.00,91.8 L679.50,89.8 L679.50,103.9 L691.00,104.7 Z" fill="#181818"/><rect x="691.4" y="98" width="6.6" height="1.8" fill="#1c1c1c"/><ellipse cx="699.9" cy="98.9" rx="2.7" ry="2.5" fill="#1c1c1c"/></g>
<g transform="translate(0,98.70)"><path d="M575,110.8 L584,113.8" stroke="#ffffff" stroke-width="2.6" stroke-linecap="round"/><path d="M534.5,91.7 L546,89.6 Q548,88 551,88.4 L560,90.6 L575,96.6 Q583,99 586.5,100.8 Q588.8,102.6 587,105.6 Q584.5,107.4 578,107.1 L566,106 L555,104.3 L545,103.9 L534.5,104.7 Z" fill="#222222" filter="url(#fFluff)"/><path d="M549,90.5 Q564,93 584,101.5 M547,94.5 Q566,97.5 585,104.5 M548,99 Q566,101.5 582,106 M552,88.8 L556,86.8 M558,90 L561,88 M556,95.5 L572,100.5 M560,102.5 L576,104.5" stroke="#4d4b4a" stroke-width="0.85" fill="none"/><path d="M534.5,91.8 L546,89.8 L546,103.9 L534.5,104.7 Z" fill="#181818"/><rect x="527.5" y="98" width="6.6" height="1.8" fill="#1c1c1c"/><ellipse cx="525.6" cy="98.9" rx="2.7" ry="2.5" fill="#1c1c1c"/></g>
<g transform="translate(0,98.70)"><path d="M650.50,110.8 L641.50,113.8" stroke="#ffffff" stroke-width="2.6" stroke-linecap="round"/><path d="M691.00,91.7 L679.50,89.6 Q677.50,88 674.50,88.4 L665.50,90.6 L650.50,96.6 Q642.50,99 639.00,100.8 Q636.70,102.6 638.50,105.6 Q641.00,107.4 647.50,107.1 L659.50,106 L670.50,104.3 L680.50,103.9 L691.00,104.7 Z" fill="#222222" filter="url(#fFluff)"/><path d="M676.50,90.5 Q661.50,93 641.50,101.5 M678.50,94.5 Q659.50,97.5 640.50,104.5 M677.50,99 Q659.50,101.5 643.50,106 M673.50,88.8 L669.50,86.8 M667.50,90 L664.50,88 M669.50,95.5 L653.50,100.5 M665.50,102.5 L649.50,104.5" stroke="#4d4b4a" stroke-width="0.85" fill="none"/><path d="M691.00,91.8 L679.50,89.8 L679.50,103.9 L691.00,104.7 Z" fill="#181818"/><rect x="691.4" y="98" width="6.6" height="1.8" fill="#1c1c1c"/><ellipse cx="699.9" cy="98.9" rx="2.7" ry="2.5" fill="#1c1c1c"/></g>
<g transform="translate(0,118.42)"><path d="M575,110.8 L584,113.8" stroke="#ffffff" stroke-width="2.6" stroke-linecap="round"/><path d="M534.5,91.7 L546,89.6 Q548,88 551,88.4 L560,90.6 L575,96.6 Q583,99 586.5,100.8 Q588.8,102.6 587,105.6 Q584.5,107.4 578,107.1 L566,106 L555,104.3 L545,103.9 L534.5,104.7 Z" fill="#222222" filter="url(#fFluff)"/><path d="M549,90.5 Q564,93 584,101.5 M547,94.5 Q566,97.5 585,104.5 M548,99 Q566,101.5 582,106 M552,88.8 L556,86.8 M558,90 L561,88 M556,95.5 L572,100.5 M560,102.5 L576,104.5" stroke="#4d4b4a" stroke-width="0.85" fill="none"/><path d="M534.5,91.8 L546,89.8 L546,103.9 L534.5,104.7 Z" fill="#181818"/><rect x="527.5" y="98" width="6.6" height="1.8" fill="#1c1c1c"/><ellipse cx="525.6" cy="98.9" rx="2.7" ry="2.5" fill="#1c1c1c"/></g>
<g transform="translate(0,118.42)"><path d="M650.50,110.8 L641.50,113.8" stroke="#ffffff" stroke-width="2.6" stroke-linecap="round"/><path d="M691.00,91.7 L679.50,89.6 Q677.50,88 674.50,88.4 L665.50,90.6 L650.50,96.6 Q642.50,99 639.00,100.8 Q636.70,102.6 638.50,105.6 Q641.00,107.4 647.50,107.1 L659.50,106 L670.50,104.3 L680.50,103.9 L691.00,104.7 Z" fill="#222222" filter="url(#fFluff)"/><path d="M676.50,90.5 Q661.50,93 641.50,101.5 M678.50,94.5 Q659.50,97.5 640.50,104.5 M677.50,99 Q659.50,101.5 643.50,106 M673.50,88.8 L669.50,86.8 M667.50,90 L664.50,88 M669.50,95.5 L653.50,100.5 M665.50,102.5 L649.50,104.5" stroke="#4d4b4a" stroke-width="0.85" fill="none"/><path d="M691.00,91.8 L679.50,89.8 L679.50,103.9 L691.00,104.7 Z" fill="#181818"/><rect x="691.4" y="98" width="6.6" height="1.8" fill="#1c1c1c"/><ellipse cx="699.9" cy="98.9" rx="2.7" ry="2.5" fill="#1c1c1c"/></g>
<g transform="translate(0,138.14)"><path d="M575,110.8 L584,113.8" stroke="#ffffff" stroke-width="2.6" stroke-linecap="round"/><path d="M534.5,91.7 L546,89.6 Q548,88 551,88.4 L560,90.6 L575,96.6 Q583,99 586.5,100.8 Q588.8,102.6 587,105.6 Q584.5,107.4 578,107.1 L566,106 L555,104.3 L545,103.9 L534.5,104.7 Z" fill="#222222" filter="url(#fFluff)"/><path d="M549,90.5 Q564,93 584,101.5 M547,94.5 Q566,97.5 585,104.5 M548,99 Q566,101.5 582,106 M552,88.8 L556,86.8 M558,90 L561,88 M556,95.5 L572,100.5 M560,102.5 L576,104.5" stroke="#4d4b4a" stroke-width="0.85" fill="none"/><path d="M534.5,91.8 L546,89.8 L546,103.9 L534.5,104.7 Z" fill="#181818"/><rect x="527.5" y="98" width="6.6" height="1.8" fill="#1c1c1c"/><ellipse cx="525.6" cy="98.9" rx="2.7" ry="2.5" fill="#1c1c1c"/></g>
<g transform="translate(0,138.14)"><path d="M650.50,110.8 L641.50,113.8" stroke="#ffffff" stroke-width="2.6" stroke-linecap="round"/><path d="M691.00,91.7 L679.50,89.6 Q677.50,88 674.50,88.4 L665.50,90.6 L650.50,96.6 Q642.50,99 639.00,100.8 Q636.70,102.6 638.50,105.6 Q641.00,107.4 647.50,107.1 L659.50,106 L670.50,104.3 L680.50,103.9 L691.00,104.7 Z" fill="#222222" filter="url(#fFluff)"/><path d="M676.50,90.5 Q661.50,93 641.50,101.5 M678.50,94.5 Q659.50,97.5 640.50,104.5 M677.50,99 Q659.50,101.5 643.50,106 M673.50,88.8 L669.50,86.8 M667.50,90 L664.50,88 M669.50,95.5 L653.50,100.5 M665.50,102.5 L649.50,104.5" stroke="#4d4b4a" stroke-width="0.85" fill="none"/><path d="M691.00,91.8 L679.50,89.8 L679.50,103.9 L691.00,104.7 Z" fill="#181818"/><rect x="691.4" y="98" width="6.6" height="1.8" fill="#1c1c1c"/><ellipse cx="699.9" cy="98.9" rx="2.7" ry="2.5" fill="#1c1c1c"/></g>
<g transform="translate(0,157.86)"><path d="M575,110.8 L584,113.8" stroke="#ffffff" stroke-width="2.6" stroke-linecap="round"/><path d="M534.5,91.7 L546,89.6 Q548,88 551,88.4 L560,90.6 L575,96.6 Q583,99 586.5,100.8 Q588.8,102.6 587,105.6 Q584.5,107.4 578,107.1 L566,106 L555,104.3 L545,103.9 L534.5,104.7 Z" fill="#222222" filter="url(#fFluff)"/><path d="M549,90.5 Q564,93 584,101.5 M547,94.5 Q566,97.5 585,104.5 M548,99 Q566,101.5 582,106 M552,88.8 L556,86.8 M558,90 L561,88 M556,95.5 L572,100.5 M560,102.5 L576,104.5" stroke="#4d4b4a" stroke-width="0.85" fill="none"/><path d="M534.5,91.8 L546,89.8 L546,103.9 L534.5,104.7 Z" fill="#181818"/><rect x="527.5" y="98" width="6.6" height="1.8" fill="#1c1c1c"/><ellipse cx="525.6" cy="98.9" rx="2.7" ry="2.5" fill="#1c1c1c"/></g>
<g transform="translate(0,157.86)"><path d="M650.50,110.8 L641.50,113.8" stroke="#ffffff" stroke-width="2.6" stroke-linecap="round"/><path d="M691.00,91.7 L679.50,89.6 Q677.50,88 674.50,88.4 L665.50,90.6 L650.50,96.6 Q642.50,99 639.00,100.8 Q636.70,102.6 638.50,105.6 Q641.00,107.4 647.50,107.1 L659.50,106 L670.50,104.3 L680.50,103.9 L691.00,104.7 Z" fill="#222222" filter="url(#fFluff)"/><path d="M676.50,90.5 Q661.50,93 641.50,101.5 M678.50,94.5 Q659.50,97.5 640.50,104.5 M677.50,99 Q659.50,101.5 643.50,106 M673.50,88.8 L669.50,86.8 M667.50,90 L664.50,88 M669.50,95.5 L653.50,100.5 M665.50,102.5 L649.50,104.5" stroke="#4d4b4a" stroke-width="0.85" fill="none"/><path d="M691.00,91.8 L679.50,89.8 L679.50,103.9 L691.00,104.7 Z" fill="#181818"/><rect x="691.4" y="98" width="6.6" height="1.8" fill="#1c1c1c"/><ellipse cx="699.9" cy="98.9" rx="2.7" ry="2.5" fill="#1c1c1c"/></g>
<g transform="translate(0,177.58)"><path d="M534.5,91.7 L546,89.6 Q548,88 551,88.4 L560,90.6 L575,96.6 Q583,99 586.5,100.8 Q588.8,102.6 587,105.6 Q584.5,107.4 578,107.1 L566,106 L555,104.3 L545,103.9 L534.5,104.7 Z" fill="#222222" filter="url(#fFluff)"/><path d="M549,90.5 Q564,93 584,101.5 M547,94.5 Q566,97.5 585,104.5 M548,99 Q566,101.5 582,106 M552,88.8 L556,86.8 M558,90 L561,88 M556,95.5 L572,100.5 M560,102.5 L576,104.5" stroke="#4d4b4a" stroke-width="0.85" fill="none"/><path d="M534.5,91.8 L546,89.8 L546,103.9 L534.5,104.7 Z" fill="#181818"/><rect x="527.5" y="98" width="6.6" height="1.8" fill="#1c1c1c"/><ellipse cx="525.6" cy="98.9" rx="2.7" ry="2.5" fill="#1c1c1c"/></g>
<g transform="translate(0,177.58)"><path d="M691.00,91.7 L679.50,89.6 Q677.50,88 674.50,88.4 L665.50,90.6 L650.50,96.6 Q642.50,99 639.00,100.8 Q636.70,102.6 638.50,105.6 Q641.00,107.4 647.50,107.1 L659.50,106 L670.50,104.3 L680.50,103.9 L691.00,104.7 Z" fill="#222222" filter="url(#fFluff)"/><path d="M676.50,90.5 Q661.50,93 641.50,101.5 M678.50,94.5 Q659.50,97.5 640.50,104.5 M677.50,99 Q659.50,101.5 643.50,106 M673.50,88.8 L669.50,86.8 M667.50,90 L664.50,88 M669.50,95.5 L653.50,100.5 M665.50,102.5 L649.50,104.5" stroke="#4d4b4a" stroke-width="0.85" fill="none"/><path d="M691.00,91.8 L679.50,89.8 L679.50,103.9 L691.00,104.7 Z" fill="#181818"/><rect x="691.4" y="98" width="6.6" height="1.8" fill="#1c1c1c"/><ellipse cx="699.9" cy="98.9" rx="2.7" ry="2.5" fill="#1c1c1c"/></g>
</g>
<!--/BRUSHES-->
<!--PARTS-->
<g id="curler1">
<path d="M316.1,425.5 L316.1,395 Q316.1,389.4 321.5,389.4 L346.4,389.4 Q351.8,389.4 351.8,395 L351.8,425.5 Z" fill="url(#gCap)"/>
<path d="M316.6,395 Q316.6,390 321.5,390 L346.4,390 Q351.3,390 351.3,395" fill="none" stroke="#c4bbb2" stroke-width="1.2"/>
<rect x="316.1" y="422.5" width="35.7" height="3" fill="#bfb6ad" opacity="0.5"/>
<rect x="300.4" y="425.3" width="67" height="252.5" fill="#d8d0c8"/>
<rect x="300.4" y="425.3" width="16" height="252.5" fill="url(#gPanL)"/>
<rect x="316.4" y="425.3" width="30" height="252.5" fill="url(#gPanC)"/>
<rect x="316" y="425.3" width="0.9" height="252.5" fill="#b3aaa1"/>
<rect x="346.4" y="425.3" width="2.1" height="252.5" fill="#a89f96"/>
<rect x="348.5" y="425.3" width="14.2" height="252.5" fill="url(#gPanR)"/>
<rect x="363" y="425.3" width="2.5" height="252.5" fill="#6e645d"/>
<path d="M362.8,440.6 L365.7,440.6 M362.8,456.4 L365.7,456.4 M362.8,472.2 L365.7,472.2 M362.8,488.0 L365.7,488.0 M362.8,503.8 L365.7,503.8 M362.8,519.6 L365.7,519.6 M362.8,535.4 L365.7,535.4 M362.8,551.2 L365.7,551.2 M362.8,567.0 L365.7,567.0 M362.8,582.8 L365.7,582.8 M362.8,598.6 L365.7,598.6 M362.8,614.4 L365.7,614.4 M362.8,630.2 L365.7,630.2 M362.8,646.0 L365.7,646.0 M362.8,661.8 L365.7,661.8" stroke="#d0c8c0" stroke-width="1.1"/>
<rect x="365.7" y="425.3" width="1.7" height="252.5" fill="#cfc7bf"/>
<rect x="300.4" y="425.3" width="67" height="1.4" fill="#e6e0da"/>
<rect x="297" y="681.5" width="73.5" height="18.3" fill="#d4ccc4"/>
<path d="M297,682 L301,682 Q300,690 302,699.8 L297,699.8 Z" fill="#b8afa6"/>
<path d="M370.5,682 L366.5,682 Q367.5,690 365.5,699.8 L370.5,699.8 Z" fill="#b8afa6"/>
<rect x="296" y="677.4" width="75" height="4.6" fill="#e2dcd5"/>
<rect x="296" y="677.4" width="75" height="0.8" fill="#c3bbb2"/>
<rect x="296" y="681.6" width="75" height="0.8" fill="#b3aaa1"/>
<rect x="297" y="699" width="73.5" height="0.8" fill="#c2bab1"/>
</g>
<g id="curler2" transform="translate(803.15,0) scale(-1,1)">
<path d="M316.1,425.5 L316.1,395 Q316.1,389.4 321.5,389.4 L346.4,389.4 Q351.8,389.4 351.8,395 L351.8,425.5 Z" fill="url(#gCap)"/>
<path d="M316.6,395 Q316.6,390 321.5,390 L346.4,390 Q351.3,390 351.3,395" fill="none" stroke="#c4bbb2" stroke-width="1.2"/>
<rect x="316.1" y="422.5" width="35.7" height="3" fill="#bfb6ad" opacity="0.5"/>
<rect x="300.4" y="425.3" width="67" height="252.5" fill="#d8d0c8"/>
<rect x="300.4" y="425.3" width="16" height="252.5" fill="url(#gPanL)"/>
<rect x="316.4" y="425.3" width="30" height="252.5" fill="url(#gPanC)"/>
<rect x="316" y="425.3" width="0.9" height="252.5" fill="#b3aaa1"/>
<rect x="346.4" y="425.3" width="2.1" height="252.5" fill="#a89f96"/>
<rect x="348.5" y="425.3" width="14.2" height="252.5" fill="url(#gPanR)"/>
<rect x="363" y="425.3" width="2.5" height="252.5" fill="#6e645d"/>
<path d="M362.8,440.6 L365.7,440.6 M362.8,456.4 L365.7,456.4 M362.8,472.2 L365.7,472.2 M362.8,488.0 L365.7,488.0 M362.8,503.8 L365.7,503.8 M362.8,519.6 L365.7,519.6 M362.8,535.4 L365.7,535.4 M362.8,551.2 L365.7,551.2 M362.8,567.0 L365.7,567.0 M362.8,582.8 L365.7,582.8 M362.8,598.6 L365.7,598.6 M362.8,614.4 L365.7,614.4 M362.8,630.2 L365.7,630.2 M362.8,646.0 L365.7,646.0 M362.8,661.8 L365.7,661.8" stroke="#d0c8c0" stroke-width="1.1"/>
<rect x="365.7" y="425.3" width="1.7" height="252.5" fill="#cfc7bf"/>
<rect x="300.4" y="425.3" width="67" height="1.4" fill="#e6e0da"/>
<rect x="297" y="681.5" width="73.5" height="18.3" fill="#d4ccc4"/>
<path d="M297,682 L301,682 Q300,690 302,699.8 L297,699.8 Z" fill="#b8afa6"/>
<path d="M370.5,682 L366.5,682 Q367.5,690 365.5,699.8 L370.5,699.8 Z" fill="#b8afa6"/>
<rect x="296" y="677.4" width="75" height="4.6" fill="#e2dcd5"/>
<rect x="296" y="677.4" width="75" height="0.8" fill="#c3bbb2"/>
<rect x="296" y="681.6" width="75" height="0.8" fill="#b3aaa1"/>
<rect x="297" y="699" width="73.5" height="0.8" fill="#c2bab1"/>
</g>
<g transform="translate(319.6,699.3) scale(1.0,1.0)"><path d="M3.2,0.5 L3.4,-7.5 Q4,-11.8 8,-12 L13.3,-12.2 Q16.6,-12 16.3,-10 Q16,-8.3 13.5,-6.5 Q10.6,-4.6 10.5,0.5 Z" fill="#c4bcb4"/><path d="M0,0.5 L0.4,-8 Q1.2,-14 7,-14.6 L13.5,-14.9 Q19.5,-14.5 19.3,-10.5 Q19,-7.5 15.5,-5 Q13.6,-3.5 13.6,0.5" fill="none" stroke="#a79f97" stroke-width="4.6"/><path d="M0,0.5 L0.4,-8 Q1.2,-14 7,-14.6 L13.5,-14.9 Q19.5,-14.5 19.3,-10.5 Q19,-7.5 15.5,-5 Q13.6,-3.5 13.6,0.5" fill="none" stroke="#e4dfd9" stroke-width="3"/></g><g transform="translate(455.3,699.3) scale(1.0,1.0)"><path d="M3.2,0.5 L3.4,-7.5 Q4,-11.8 8,-12 L13.3,-12.2 Q16.6,-12 16.3,-10 Q16,-8.3 13.5,-6.5 Q10.6,-4.6 10.5,0.5 Z" fill="#c4bcb4"/><path d="M0,0.5 L0.4,-8 Q1.2,-14 7,-14.6 L13.5,-14.9 Q19.5,-14.5 19.3,-10.5 Q19,-7.5 15.5,-5 Q13.6,-3.5 13.6,0.5" fill="none" stroke="#a79f97" stroke-width="4.6"/><path d="M0,0.5 L0.4,-8 Q1.2,-14 7,-14.6 L13.5,-14.9 Q19.5,-14.5 19.3,-10.5 Q19,-7.5 15.5,-5 Q13.6,-3.5 13.6,0.5" fill="none" stroke="#e4dfd9" stroke-width="3"/></g>
<g id="diffuser">
<ellipse cx="639.2" cy="450.6" rx="79.25" ry="65.4" transform="rotate(-44.4 639.2 450.6)" fill="url(#gRim)"/>
<ellipse cx="636.3" cy="449.4" rx="75" ry="62.8" transform="rotate(-43.9 636.3 449.4)" fill="#d9d4cf" stroke="#c6c1bc" stroke-width="0.8"/>
<ellipse cx="636.3" cy="449.4" rx="70.6" ry="58.8" transform="rotate(-43.9 636.3 449.4)" fill="#aca7a2"/>
<clipPath id="faceClip"><ellipse cx="636.3" cy="449.4" rx="69.6" ry="57.8" transform="rotate(-43.9 636.3 449.4)"/></clipPath>
<path d="M575.8,480.6h0.01 M581.2,486.2h0.01 M582.3,490.6h0.01 M586.6,491.8h0.01 M587.7,496.2h0.01 M592.0,497.5h0.01 M593.1,501.8h0.01 M597.4,503.1h0.01 M602.8,508.7h0.01 M573.6,471.9h0.01 M574.7,476.2h0.01 M579.0,477.5h0.01 M580.1,481.8h0.01 M584.4,483.1h0.01 M585.5,487.5h0.01 M589.8,488.7h0.01 M590.9,493.1h0.01 M595.2,494.3h0.01 M596.3,498.7h0.01 M600.6,500.0h0.01 M601.7,504.3h0.01 M606.0,505.6h0.01 M607.1,509.9h0.01 M611.5,511.2h0.01 M572.5,467.5h0.01 M576.8,468.7h0.01 M577.9,473.1h0.01 M582.2,474.4h0.01 M583.3,478.7h0.01 M587.7,480.0h0.01 M588.7,484.3h0.01 M593.1,485.6h0.01 M594.1,490.0h0.01 M598.5,491.2h0.01 M599.6,495.6h0.01 M603.9,496.8h0.01 M605.0,501.2h0.01 M609.3,502.5h0.01 M610.4,506.8h0.01 M614.7,508.1h0.01 M615.8,512.4h0.01 M574.7,460.0h0.01 M575.8,464.4h0.01 M580.1,465.6h0.01 M581.2,470.0h0.01 M585.5,471.2h0.01 M586.6,475.6h0.01 M590.9,476.9h0.01 M592.0,481.2h0.01 M596.3,482.5h0.01 M597.4,486.8h0.01 M601.7,488.1h0.01 M602.8,492.5h0.01 M607.1,493.7h0.01 M608.2,498.1h0.01 M612.5,499.3h0.01 M613.6,503.7h0.01 M617.9,505.0h0.01 M619.0,509.3h0.01 M623.3,510.6h0.01 M573.6,455.6h0.01 M577.9,456.9h0.01 M579.0,461.2h0.01 M583.3,462.5h0.01 M584.4,466.9h0.01 M588.7,468.1h0.01 M589.8,472.5h0.01 M594.1,473.7h0.01 M595.2,478.1h0.01 M599.5,479.4h0.01 M600.6,483.7h0.01 M605.0,485.0h0.01 M606.0,489.3h0.01 M610.4,490.6h0.01 M611.4,495.0h0.01 M615.8,496.2h0.01 M616.9,500.6h0.01 M621.2,501.8h0.01 M622.3,506.2h0.01 M626.6,507.5h0.01 M627.7,511.8h0.01 M575.7,448.1h0.01 M576.8,452.5h0.01 M581.2,453.8h0.01 M582.2,458.1h0.01 M586.6,459.4h0.01 M587.6,463.7h0.01 M592.0,465.0h0.01 M593.1,469.4h0.01 M597.4,470.6h0.01 M598.5,475.0h0.01 M602.8,476.2h0.01 M603.9,480.6h0.01 M608.2,481.9h0.01 M609.3,486.2h0.01 M613.6,487.5h0.01 M614.7,491.8h0.01 M619.0,493.1h0.01 M620.1,497.5h0.01 M624.4,498.7h0.01 M625.5,503.1h0.01 M629.8,504.3h0.01 M630.9,508.7h0.01 M635.2,510.0h0.01 M574.7,443.8h0.01 M579.0,445.0h0.01 M580.1,449.4h0.01 M584.4,450.6h0.01 M585.5,455.0h0.01 M589.8,456.3h0.01 M590.9,460.6h0.01 M595.2,461.9h0.01 M596.3,466.2h0.01 M600.6,467.5h0.01 M601.7,471.9h0.01 M606.0,473.1h0.01 M607.1,477.5h0.01 M611.4,478.7h0.01 M612.5,483.1h0.01 M616.9,484.4h0.01 M617.9,488.7h0.01 M622.3,490.0h0.01 M623.3,494.3h0.01 M627.7,495.6h0.01 M628.8,500.0h0.01 M633.1,501.2h0.01 M634.2,505.6h0.01 M638.5,506.8h0.01 M639.6,511.2h0.01 M577.9,440.6h0.01 M582.2,441.9h0.01 M583.3,446.3h0.01 M587.6,447.5h0.01 M588.7,451.9h0.01 M593.1,453.1h0.01 M594.1,457.5h0.01 M598.5,458.8h0.01 M599.5,463.1h0.01 M603.9,464.4h0.01 M605.0,468.7h0.01 M609.3,470.0h0.01 M610.4,474.4h0.01 M614.7,475.6h0.01 M615.8,480.0h0.01 M620.1,481.2h0.01 M621.2,485.6h0.01 M625.5,486.9h0.01 M626.6,491.2h0.01 M630.9,492.5h0.01 M632.0,496.8h0.01 M636.3,498.1h0.01 M637.4,502.5h0.01 M641.7,503.7h0.01 M642.8,508.1h0.01 M580.1,433.2h0.01 M581.2,437.5h0.01 M585.5,438.8h0.01 M586.6,443.1h0.01 M590.9,444.4h0.01 M592.0,448.8h0.01 M596.3,450.0h0.01 M597.4,454.4h0.01 M601.7,455.6h0.01 M602.8,460.0h0.01 M607.1,461.3h0.01 M608.2,465.6h0.01 M612.5,466.9h0.01 M613.6,471.2h0.01 M617.9,472.5h0.01 M619.0,476.9h0.01 M623.3,478.1h0.01 M624.4,482.5h0.01 M628.7,483.7h0.01 M629.8,488.1h0.01 M634.2,489.4h0.01 M635.2,493.7h0.01 M639.6,495.0h0.01 M640.6,499.3h0.01 M645.0,500.6h0.01 M646.1,505.0h0.01 M650.4,506.2h0.01 M583.3,430.0h0.01 M584.4,434.4h0.01 M588.7,435.7h0.01 M589.8,440.0h0.01 M594.1,441.3h0.01 M595.2,445.6h0.01 M599.5,446.9h0.01 M600.6,451.3h0.01 M604.9,452.5h0.01 M606.0,456.9h0.01 M610.4,458.1h0.01 M611.4,462.5h0.01 M615.8,463.8h0.01 M616.8,468.1h0.01 M621.2,469.4h0.01 M622.3,473.7h0.01 M626.6,475.0h0.01 M627.7,479.4h0.01 M632.0,480.6h0.01 M633.1,485.0h0.01 M637.4,486.2h0.01 M638.5,490.6h0.01 M642.8,491.9h0.01 M643.9,496.2h0.01 M648.2,497.5h0.01 M649.3,501.8h0.01 M653.6,503.1h0.01 M582.2,425.7h0.01 M586.6,426.9h0.01 M587.6,431.3h0.01 M592.0,432.5h0.01 M593.0,436.9h0.01 M597.4,438.2h0.01 M598.5,442.5h0.01 M602.8,443.8h0.01 M603.9,448.1h0.01 M608.2,449.4h0.01 M609.3,453.8h0.01 M613.6,455.0h0.01 M614.7,459.4h0.01 M619.0,460.6h0.01 M620.1,465.0h0.01 M624.4,466.3h0.01 M625.5,470.6h0.01 M629.8,471.9h0.01 M630.9,476.2h0.01 M635.2,477.5h0.01 M636.3,481.9h0.01 M640.6,483.1h0.01 M641.7,487.5h0.01 M646.0,488.7h0.01 M647.1,493.1h0.01 M651.5,494.4h0.01 M652.5,498.7h0.01 M656.9,500.0h0.01 M657.9,504.3h0.01 M585.5,422.5h0.01 M589.8,423.8h0.01 M590.9,428.2h0.01 M595.2,429.4h0.01 M596.3,433.8h0.01 M600.6,435.0h0.01 M601.7,439.4h0.01 M606.0,440.7h0.01 M607.1,445.0h0.01 M611.4,446.3h0.01 M612.5,450.6h0.01 M616.8,451.9h0.01 M617.9,456.3h0.01 M622.2,457.5h0.01 M623.3,461.9h0.01 M627.7,463.1h0.01 M628.7,467.5h0.01 M633.1,468.8h0.01 M634.1,473.1h0.01 M638.5,474.4h0.01 M639.6,478.7h0.01 M643.9,480.0h0.01 M645.0,484.4h0.01 M649.3,485.6h0.01 M650.4,490.0h0.01 M654.7,491.2h0.01 M655.8,495.6h0.01 M660.1,496.9h0.01 M661.2,501.2h0.01 M588.7,419.4h0.01 M593.0,420.7h0.01 M594.1,425.0h0.01 M598.4,426.3h0.01 M599.5,430.7h0.01 M603.9,431.9h0.01 M604.9,436.3h0.01 M609.3,437.5h0.01 M610.3,441.9h0.01 M614.7,443.2h0.01 M615.8,447.5h0.01 M620.1,448.8h0.01 M621.2,453.1h0.01 M625.5,454.4h0.01 M626.6,458.8h0.01 M630.9,460.0h0.01 M632.0,464.4h0.01 M636.3,465.6h0.01 M637.4,470.0h0.01 M641.7,471.3h0.01 M642.8,475.6h0.01 M647.1,476.9h0.01 M648.2,481.2h0.01 M652.5,482.5h0.01 M653.6,486.9h0.01 M657.9,488.1h0.01 M659.0,492.5h0.01 M663.3,493.7h0.01 M664.4,498.1h0.01 M592.0,416.3h0.01 M596.3,417.5h0.01 M597.4,421.9h0.01 M601.7,423.2h0.01 M602.8,427.5h0.01 M607.1,428.8h0.01 M608.2,433.2h0.01 M612.5,434.4h0.01 M613.6,438.8h0.01 M617.9,440.0h0.01 M619.0,444.4h0.01 M623.3,445.7h0.01 M624.4,450.0h0.01 M628.7,451.3h0.01 M629.8,455.6h0.01 M634.1,456.9h0.01 M635.2,461.3h0.01 M639.5,462.5h0.01 M640.6,466.9h0.01 M645.0,468.1h0.01 M646.0,472.5h0.01 M650.4,473.8h0.01 M651.4,478.1h0.01 M655.8,479.4h0.01 M656.9,483.7h0.01 M661.2,485.0h0.01 M662.3,489.4h0.01 M666.6,490.6h0.01 M667.7,495.0h0.01 M595.2,413.2h0.01 M599.5,414.4h0.01 M600.6,418.8h0.01 M604.9,420.0h0.01 M606.0,424.4h0.01 M610.3,425.7h0.01 M611.4,430.0h0.01 M615.7,431.3h0.01 M616.8,435.7h0.01 M621.2,436.9h0.01 M622.2,441.3h0.01 M626.6,442.5h0.01 M627.6,446.9h0.01 M632.0,448.2h0.01 M633.1,452.5h0.01 M637.4,453.8h0.01 M638.5,458.1h0.01 M642.8,459.4h0.01 M643.9,463.8h0.01 M648.2,465.0h0.01 M649.3,469.4h0.01 M653.6,470.6h0.01 M654.7,475.0h0.01 M659.0,476.3h0.01 M660.1,480.6h0.01 M664.4,481.9h0.01 M665.5,486.2h0.01 M669.8,487.5h0.01 M670.9,491.9h0.01 M598.4,410.1h0.01 M602.8,411.3h0.01 M603.8,415.7h0.01 M608.2,416.9h0.01 M609.3,421.3h0.01 M613.6,422.5h0.01 M614.7,426.9h0.01 M619.0,428.2h0.01 M620.1,432.5h0.01 M624.4,433.8h0.01 M625.5,438.2h0.01 M629.8,439.4h0.01 M630.9,443.8h0.01 M635.2,445.0h0.01 M636.3,449.4h0.01 M640.6,450.6h0.01 M641.7,455.0h0.01 M646.0,456.3h0.01 M647.1,460.6h0.01 M651.4,461.9h0.01 M652.5,466.3h0.01 M656.9,467.5h0.01 M657.9,471.9h0.01 M662.3,473.1h0.01 M663.3,477.5h0.01 M667.7,478.8h0.01 M668.8,483.1h0.01 M673.1,484.4h0.01 M674.2,488.7h0.01 M601.7,406.9h0.01 M606.0,408.2h0.01 M607.1,412.6h0.01 M611.4,413.8h0.01 M612.5,418.2h0.01 M616.8,419.4h0.01 M617.9,423.8h0.01 M622.2,425.0h0.01 M623.3,429.4h0.01 M627.6,430.7h0.01 M628.7,435.0h0.01 M633.1,436.3h0.01 M634.1,440.7h0.01 M638.5,441.9h0.01 M639.5,446.3h0.01 M643.9,447.5h0.01 M645.0,451.9h0.01 M649.3,453.1h0.01 M650.4,457.5h0.01 M654.7,458.8h0.01 M655.8,463.1h0.01 M660.1,464.4h0.01 M661.2,468.8h0.01 M665.5,470.0h0.01 M666.6,474.4h0.01 M670.9,475.6h0.01 M672.0,480.0h0.01 M676.3,481.3h0.01 M677.4,485.6h0.01 M604.9,403.8h0.01 M609.3,405.1h0.01 M610.3,409.4h0.01 M614.7,410.7h0.01 M615.7,415.1h0.01 M620.1,416.3h0.01 M621.2,420.7h0.01 M625.5,421.9h0.01 M626.6,426.3h0.01 M630.9,427.5h0.01 M632.0,431.9h0.01 M636.3,433.2h0.01 M637.4,437.5h0.01 M641.7,438.8h0.01 M642.8,443.2h0.01 M647.1,444.4h0.01 M648.2,448.8h0.01 M652.5,450.0h0.01 M653.6,454.4h0.01 M657.9,455.6h0.01 M659.0,460.0h0.01 M663.3,461.3h0.01 M664.4,465.6h0.01 M668.7,466.9h0.01 M669.8,471.3h0.01 M674.2,472.5h0.01 M675.2,476.9h0.01 M679.6,478.1h0.01 M680.6,482.5h0.01 M608.2,400.7h0.01 M612.5,401.9h0.01 M613.6,406.3h0.01 M617.9,407.6h0.01 M619.0,411.9h0.01 M623.3,413.2h0.01 M624.4,417.6h0.01 M628.7,418.8h0.01 M629.8,423.2h0.01 M634.1,424.4h0.01 M635.2,428.8h0.01 M639.5,430.0h0.01 M640.6,434.4h0.01 M644.9,435.7h0.01 M646.0,440.0h0.01 M650.4,441.3h0.01 M651.4,445.7h0.01 M655.8,446.9h0.01 M656.8,451.3h0.01 M661.2,452.5h0.01 M662.3,456.9h0.01 M666.6,458.1h0.01 M667.7,462.5h0.01 M672.0,463.8h0.01 M673.1,468.1h0.01 M677.4,469.4h0.01 M678.5,473.8h0.01 M682.8,475.0h0.01 M683.9,479.4h0.01 M611.4,397.6h0.01 M615.7,398.8h0.01 M616.8,403.2h0.01 M621.1,404.4h0.01 M622.2,408.8h0.01 M626.6,410.1h0.01 M627.6,414.4h0.01 M632.0,415.7h0.01 M633.0,420.1h0.01 M637.4,421.3h0.01 M638.5,425.7h0.01 M642.8,426.9h0.01 M643.9,431.3h0.01 M648.2,432.5h0.01 M649.3,436.9h0.01 M653.6,438.2h0.01 M654.7,442.5h0.01 M659.0,443.8h0.01 M660.1,448.2h0.01 M664.4,449.4h0.01 M665.5,453.8h0.01 M669.8,455.0h0.01 M670.9,459.4h0.01 M675.2,460.6h0.01 M676.3,465.0h0.01 M680.6,466.3h0.01 M681.7,470.6h0.01 M686.0,471.9h0.01 M687.1,476.3h0.01 M614.7,394.5h0.01 M619.0,395.7h0.01 M620.1,400.1h0.01 M624.4,401.3h0.01 M625.5,405.7h0.01 M629.8,406.9h0.01 M630.9,411.3h0.01 M635.2,412.6h0.01 M636.3,416.9h0.01 M640.6,418.2h0.01 M641.7,422.6h0.01 M646.0,423.8h0.01 M647.1,428.2h0.01 M651.4,429.4h0.01 M652.5,433.8h0.01 M656.8,435.0h0.01 M657.9,439.4h0.01 M662.2,440.7h0.01 M663.3,445.0h0.01 M667.7,446.3h0.01 M668.7,450.7h0.01 M673.1,451.9h0.01 M674.1,456.3h0.01 M678.5,457.5h0.01 M679.6,461.9h0.01 M683.9,463.1h0.01 M685.0,467.5h0.01 M689.3,468.8h0.01 M690.4,473.1h0.01 M622.2,392.6h0.01 M623.3,397.0h0.01 M627.6,398.2h0.01 M628.7,402.6h0.01 M633.0,403.8h0.01 M634.1,408.2h0.01 M638.4,409.4h0.01 M639.5,413.8h0.01 M643.9,415.1h0.01 M644.9,419.4h0.01 M649.3,420.7h0.01 M650.3,425.1h0.01 M654.7,426.3h0.01 M655.8,430.7h0.01 M660.1,431.9h0.01 M661.2,436.3h0.01 M665.5,437.5h0.01 M666.6,441.9h0.01 M670.9,443.2h0.01 M672.0,447.5h0.01 M676.3,448.8h0.01 M677.4,453.2h0.01 M681.7,454.4h0.01 M682.8,458.8h0.01 M687.1,460.0h0.01 M688.2,464.4h0.01 M692.5,465.6h0.01 M626.5,393.8h0.01 M630.9,395.1h0.01 M632.0,399.5h0.01 M636.3,400.7h0.01 M637.4,405.1h0.01 M641.7,406.3h0.01 M642.8,410.7h0.01 M647.1,411.9h0.01 M648.2,416.3h0.01 M652.5,417.6h0.01 M653.6,421.9h0.01 M657.9,423.2h0.01 M659.0,427.6h0.01 M663.3,428.8h0.01 M664.4,433.2h0.01 M668.7,434.4h0.01 M669.8,438.8h0.01 M674.1,440.0h0.01 M675.2,444.4h0.01 M679.5,445.7h0.01 M680.6,450.0h0.01 M685.0,451.3h0.01 M686.0,455.7h0.01 M690.4,456.9h0.01 M691.4,461.3h0.01 M629.8,390.7h0.01 M634.1,392.0h0.01 M635.2,396.3h0.01 M639.5,397.6h0.01 M640.6,402.0h0.01 M644.9,403.2h0.01 M646.0,407.6h0.01 M650.3,408.8h0.01 M651.4,413.2h0.01 M655.7,414.4h0.01 M656.8,418.8h0.01 M661.2,420.1h0.01 M662.2,424.4h0.01 M666.6,425.7h0.01 M667.6,430.1h0.01 M672.0,431.3h0.01 M673.1,435.7h0.01 M677.4,436.9h0.01 M678.5,441.3h0.01 M682.8,442.5h0.01 M683.9,446.9h0.01 M688.2,448.2h0.01 M689.3,452.5h0.01 M693.6,453.8h0.01 M694.7,458.2h0.01 M633.0,387.6h0.01 M637.4,388.8h0.01 M638.4,393.2h0.01 M642.8,394.5h0.01 M643.8,398.8h0.01 M648.2,400.1h0.01 M649.3,404.5h0.01 M653.6,405.7h0.01 M654.7,410.1h0.01 M659.0,411.3h0.01 M660.1,415.7h0.01 M664.4,416.9h0.01 M665.5,421.3h0.01 M669.8,422.6h0.01 M670.9,426.9h0.01 M675.2,428.2h0.01 M676.3,432.6h0.01 M680.6,433.8h0.01 M681.7,438.2h0.01 M686.0,439.4h0.01 M687.1,443.8h0.01 M691.4,445.0h0.01 M692.5,449.4h0.01 M696.9,450.7h0.01 M697.9,455.0h0.01 M641.7,390.1h0.01 M646.0,391.3h0.01 M647.1,395.7h0.01 M651.4,397.0h0.01 M652.5,401.3h0.01 M656.8,402.6h0.01 M657.9,407.0h0.01 M662.2,408.2h0.01 M663.3,412.6h0.01 M667.6,413.8h0.01 M668.7,418.2h0.01 M673.1,419.4h0.01 M674.1,423.8h0.01 M678.5,425.1h0.01 M679.5,429.4h0.01 M683.9,430.7h0.01 M685.0,435.1h0.01 M689.3,436.3h0.01 M690.4,440.7h0.01 M694.7,441.9h0.01 M695.8,446.3h0.01 M644.9,387.0h0.01 M649.3,388.2h0.01 M650.3,392.6h0.01 M654.7,393.8h0.01 M655.7,398.2h0.01 M660.1,399.5h0.01 M661.2,403.8h0.01 M665.5,405.1h0.01 M666.6,409.5h0.01 M670.9,410.7h0.01 M672.0,415.1h0.01 M676.3,416.3h0.01 M677.4,420.7h0.01 M681.7,421.9h0.01 M682.8,426.3h0.01 M687.1,427.6h0.01 M688.2,431.9h0.01 M692.5,433.2h0.01 M693.6,437.6h0.01 M697.9,438.8h0.01 M699.0,443.2h0.01 M653.6,389.5h0.01 M657.9,390.7h0.01 M659.0,395.1h0.01 M663.3,396.3h0.01 M664.4,400.7h0.01 M668.7,402.0h0.01 M669.8,406.3h0.01 M674.1,407.6h0.01 M675.2,412.0h0.01 M679.5,413.2h0.01 M680.6,417.6h0.01 M684.9,418.8h0.01 M686.0,423.2h0.01 M690.4,424.4h0.01 M691.4,428.8h0.01 M695.8,430.1h0.01 M696.8,434.4h0.01 M656.8,386.4h0.01 M661.1,387.6h0.01 M662.2,392.0h0.01 M666.6,393.2h0.01 M667.6,397.6h0.01 M672.0,398.8h0.01 M673.0,403.2h0.01 M677.4,404.5h0.01 M678.5,408.8h0.01 M682.8,410.1h0.01 M683.9,414.5h0.01 M688.2,415.7h0.01 M689.3,420.1h0.01 M693.6,421.3h0.01 M694.7,425.7h0.01 M699.0,426.9h0.01 M700.1,431.3h0.01 M665.5,388.9h0.01 M669.8,390.1h0.01 M670.9,394.5h0.01 M675.2,395.7h0.01 M676.3,400.1h0.01 M680.6,401.3h0.01 M681.7,405.7h0.01 M686.0,407.0h0.01 M687.1,411.3h0.01 M691.4,412.6h0.01 M692.5,417.0h0.01 M696.8,418.2h0.01 M697.9,422.6h0.01 M679.5,397.0h0.01 M684.9,402.6h0.01 M690.3,408.2h0.01" stroke="#78736e" stroke-width="2.2" stroke-linecap="round" clip-path="url(#faceClip)"/>
<g transform="translate(637.4,395.7) rotate(36.1)"><rect x="-3.5" y="-4.6" width="26" height="9.2" rx="4.6" fill="#85807b" opacity="0.45" transform="translate(1.2,1.6)"/><rect x="-3.5" y="-4.4" width="26" height="8.8" rx="4.4" fill="#b0aba6"/><rect x="-3.5" y="-4.4" width="13.5" height="8.8" rx="4.4" fill="#bdb8b3"/><rect x="-3.8" y="-3.1" width="14.5" height="6.2" rx="3.1" fill="#5f5a56" stroke="#dcd8d4" stroke-width="1.4"/></g>
<g transform="translate(668.5,402) rotate(37.2)"><rect x="-3.5" y="-4.6" width="26" height="9.2" rx="4.6" fill="#85807b" opacity="0.45" transform="translate(1.2,1.6)"/><rect x="-3.5" y="-4.4" width="26" height="8.8" rx="4.4" fill="#b0aba6"/><rect x="-3.5" y="-4.4" width="13.5" height="8.8" rx="4.4" fill="#bdb8b3"/><circle cx="-0.6" cy="-0.3" r="3.1" fill="#dedad6"/></g>
<g transform="translate(603.2,416) rotate(39.5)"><rect x="-3.5" y="-4.6" width="25" height="9.2" rx="4.6" fill="#85807b" opacity="0.45" transform="translate(1.2,1.6)"/><rect x="-3.5" y="-4.4" width="25" height="8.8" rx="4.4" fill="#b0aba6"/><rect x="-3.5" y="-4.4" width="13.0" height="8.8" rx="4.4" fill="#bdb8b3"/><rect x="-3.8" y="-3.1" width="14.5" height="6.2" rx="3.1" fill="#5f5a56" stroke="#dcd8d4" stroke-width="1.4"/></g>
<g transform="translate(641.2,426.6) rotate(41.3)"><rect x="-3.5" y="-4.6" width="18" height="9.2" rx="4.6" fill="#85807b" opacity="0.45" transform="translate(1.2,1.6)"/><rect x="-3.5" y="-4.4" width="18" height="8.8" rx="4.4" fill="#b0aba6"/><rect x="-3.5" y="-4.4" width="9.5" height="8.8" rx="4.4" fill="#bdb8b3"/><circle cx="-0.6" cy="-0.3" r="3.1" fill="#dedad6"/></g>
<g transform="translate(622.5,434.2) rotate(42.6)"><rect x="-3.5" y="-4.6" width="28" height="9.2" rx="4.6" fill="#85807b" opacity="0.45" transform="translate(1.2,1.6)"/><rect x="-3.5" y="-4.4" width="28" height="8.8" rx="4.4" fill="#b0aba6"/><rect x="-3.5" y="-4.4" width="14.5" height="8.8" rx="4.4" fill="#bdb8b3"/><circle cx="-0.6" cy="-0.3" r="3.1" fill="#dedad6"/></g>
<g transform="translate(651,436) rotate(42.9)"><rect x="-3.5" y="-4.6" width="26" height="9.2" rx="4.6" fill="#85807b" opacity="0.45" transform="translate(1.2,1.6)"/><rect x="-3.5" y="-4.4" width="26" height="8.8" rx="4.4" fill="#b0aba6"/><rect x="-3.5" y="-4.4" width="13.5" height="8.8" rx="4.4" fill="#bdb8b3"/><rect x="-3.8" y="-3.1" width="14.5" height="6.2" rx="3.1" fill="#5f5a56" stroke="#dcd8d4" stroke-width="1.4"/></g>
<g transform="translate(677,433) rotate(42.4)"><rect x="-3.5" y="-4.6" width="23" height="9.2" rx="4.6" fill="#85807b" opacity="0.45" transform="translate(1.2,1.6)"/><rect x="-3.5" y="-4.4" width="23" height="8.8" rx="4.4" fill="#b0aba6"/><rect x="-3.5" y="-4.4" width="12.0" height="8.8" rx="4.4" fill="#bdb8b3"/><circle cx="-0.6" cy="-0.3" r="3.1" fill="#dedad6"/></g>
<g transform="translate(585,450.3) rotate(45.3)"><rect x="-3.5" y="-4.6" width="25" height="9.2" rx="4.6" fill="#85807b" opacity="0.45" transform="translate(1.2,1.6)"/><rect x="-3.5" y="-4.4" width="25" height="8.8" rx="4.4" fill="#b0aba6"/><rect x="-3.5" y="-4.4" width="13.0" height="8.8" rx="4.4" fill="#bdb8b3"/><rect x="-3.8" y="-3.1" width="14.5" height="6.2" rx="3.1" fill="#5f5a56" stroke="#dcd8d4" stroke-width="1.4"/></g>
<g transform="translate(613.9,453.4) rotate(45.8)"><rect x="-3.5" y="-4.6" width="18" height="9.2" rx="4.6" fill="#85807b" opacity="0.45" transform="translate(1.2,1.6)"/><rect x="-3.5" y="-4.4" width="18" height="8.8" rx="4.4" fill="#b0aba6"/><rect x="-3.5" y="-4.4" width="9.5" height="8.8" rx="4.4" fill="#bdb8b3"/><circle cx="-0.6" cy="-0.3" r="3.1" fill="#dedad6"/></g>
<g transform="translate(644.5,455.6) rotate(46.2)"><rect x="-3.5" y="-4.6" width="25" height="9.2" rx="4.6" fill="#85807b" opacity="0.45" transform="translate(1.2,1.6)"/><rect x="-3.5" y="-4.4" width="25" height="8.8" rx="4.4" fill="#b0aba6"/><rect x="-3.5" y="-4.4" width="13.0" height="8.8" rx="4.4" fill="#bdb8b3"/><rect x="-3.8" y="-3.1" width="14.5" height="6.2" rx="3.1" fill="#5f5a56" stroke="#dcd8d4" stroke-width="1.4"/></g>
<g transform="translate(624,463.5) rotate(47.5)"><rect x="-3.5" y="-4.6" width="25" height="9.2" rx="4.6" fill="#85807b" opacity="0.45" transform="translate(1.2,1.6)"/><rect x="-3.5" y="-4.4" width="25" height="8.8" rx="4.4" fill="#b0aba6"/><rect x="-3.5" y="-4.4" width="13.0" height="8.8" rx="4.4" fill="#bdb8b3"/><rect x="-3.8" y="-3.1" width="14.5" height="6.2" rx="3.1" fill="#5f5a56" stroke="#dcd8d4" stroke-width="1.4"/></g>
<g transform="translate(658.4,470) rotate(48.6)"><rect x="-3.5" y="-4.6" width="24" height="9.2" rx="4.6" fill="#85807b" opacity="0.45" transform="translate(1.2,1.6)"/><rect x="-3.5" y="-4.4" width="24" height="8.8" rx="4.4" fill="#b0aba6"/><rect x="-3.5" y="-4.4" width="12.5" height="8.8" rx="4.4" fill="#bdb8b3"/><circle cx="-0.6" cy="-0.3" r="3.1" fill="#dedad6"/></g>
<g transform="translate(590.3,480.3) rotate(50.4)"><rect x="-3.5" y="-4.6" width="24" height="9.2" rx="4.6" fill="#85807b" opacity="0.45" transform="translate(1.2,1.6)"/><rect x="-3.5" y="-4.4" width="24" height="8.8" rx="4.4" fill="#b0aba6"/><rect x="-3.5" y="-4.4" width="12.5" height="8.8" rx="4.4" fill="#bdb8b3"/><circle cx="-0.6" cy="-0.3" r="3.1" fill="#dedad6"/></g>
<g transform="translate(621.4,488.8) rotate(51.8)"><rect x="-3.5" y="-4.6" width="23" height="9.2" rx="4.6" fill="#85807b" opacity="0.45" transform="translate(1.2,1.6)"/><rect x="-3.5" y="-4.4" width="23" height="8.8" rx="4.4" fill="#b0aba6"/><rect x="-3.5" y="-4.4" width="12.0" height="8.8" rx="4.4" fill="#bdb8b3"/><circle cx="-0.6" cy="-0.3" r="3.1" fill="#dedad6"/></g>
</g>
<g id="nozzle">
<path d="M578.4,589.7 L691.3,589.7 L691.3,630.2 Q690,636 681,647 L672.5,660 Q667,666 666.5,674 Q667,679 672,683.5 L600,683.5 Q605,679 605.3,674 Q605,666 599.5,660 L590,647 Q579.5,636 578.4,630.2 Z" fill="url(#gNoz)"/>
<path d="M584,641 Q596,630 635,629 Q674,630 686,641 L681,647 L672.5,660 Q667,666 666.5,674 L605.3,674 Q605,666 599.5,660 L590,647 Z" fill="#cdc5bd"/>
<rect x="593.4" y="589.7" width="83.7" height="38.8" fill="#d7d0c9" stroke="#c5bdb5" stroke-width="0.8"/>
<rect x="593.4" y="627.3" width="83.7" height="1.6" fill="#bfb7af"/>
<path d="M600,683.5 Q605,679 605.2,673.7 C605.5,656 611,642 620.2,635.2 Q628,629.3 635.25,628.6 Q642.5,629.3 650.3,635.2 C659.5,642 665.5,656 666.2,673.7 Q666.5,679 672,683.5 Z" fill="url(#gCone)"/>
<rect x="595.9" y="682.9" width="76.5" height="4.2" fill="#d5cec7"/>
<rect x="595.9" y="682.9" width="76.5" height="0.8" fill="#bcb4ac"/>
<rect x="594.8" y="687.1" width="79.3" height="12" fill="url(#gNozB)"/>
<rect x="594.8" y="687.1" width="79.3" height="0.9" fill="#b5ada5"/>
<rect x="594.8" y="689.3" width="79.3" height="0.7" fill="#c3bbb3"/>
</g>
<!--/PARTS-->
</svg>
</body></html>
